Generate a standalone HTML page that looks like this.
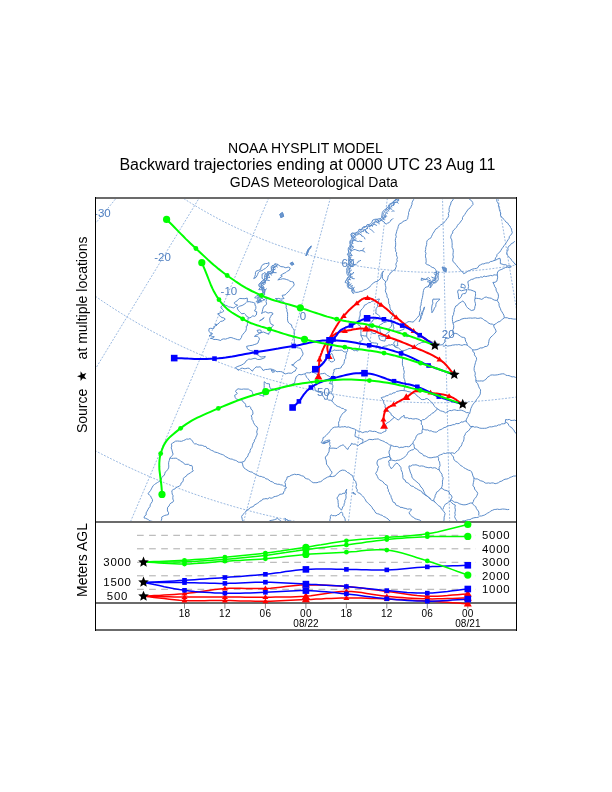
<!DOCTYPE html><html><head><meta charset="utf-8"><title>NOAA HYSPLIT MODEL</title>
<style>html,body{margin:0;padding:0;background:#fff;}svg{display:block;will-change:transform;}</style></head><body>
<svg width="612" height="792" viewBox="0 0 612 792" font-family="'Liberation Sans', Arial, Helvetica, sans-serif">
<rect width="612" height="792" fill="#fff"/>
<text x="228.1" y="152.6" font-size="14" fill="#000">NOAA HYSPLIT MODEL</text>
<text x="119.4" y="169.8" font-size="16" fill="#000">Backward trajectories ending at 0000 UTC 23 Aug 11</text>
<text x="229.8" y="186.6" font-size="14" fill="#000">GDAS Meteorological Data</text>
<defs><clipPath id="mc"><rect x="95.5" y="198" width="420.5" height="323.5"/></clipPath></defs>
<g clip-path="url(#mc)">
<path d="M-201.1,392.5 L-149.8,345.6 L-99.8,299.8 L-50.8,255 L-2.4,210.7 L45.7,166.6 L93.8,122.6 L142.4,78.1 L191.9,32.7 L243.1,-14.1 M-112.4,476.5 L-68.3,422.8 L-25.3,370.4 L16.9,319.1 L58.5,268.4 L99.9,218 L141.3,167.6 L183.1,116.7 L225.7,64.7 L269.8,11.1 M-12.8,547.1 L23.3,487.7 L58.4,429.8 L92.9,373 L127,316.9 L160.8,261.2 L194.7,205.4 L228.8,149.1 L263.7,91.7 L299.7,32.3 M95.8,602.9 L123.1,539 L149.7,476.7 L175.8,415.6 L201.6,355.2 L227.2,295.3 L252.8,235.3 L278.7,174.7 L305.1,112.9 L332.4,49.1 M211.2,642.8 L229.2,575.7 L246.7,510.2 L263.9,446 L280.9,382.6 L297.8,319.7 L314.7,256.6 L331.7,193 L349.1,128.1 L367,61.1 M331.1,666 L339.4,597 L347.5,529.7 L355.4,463.7 L363.3,398.5 L371.1,333.8 L378.9,269 L386.7,203.6 L394.8,137 L403.1,68 M453,671.9 L451.5,602.4 L450,534.7 L448.5,468.2 L447.1,402.6 L445.6,337.5 L444.2,272.2 L442.7,206.4 L441.3,139.2 L439.7,69.8 M574.6,660.6 L563.3,592 L552.2,525.1 L541.3,459.6 L530.6,394.8 L520,330.5 L509.3,266.1 L498.6,201.2 L487.6,134.9 L476.3,66.4 M693.4,632.2 L672.4,565.9 L652,501.2 L632,437.9 L612.2,375.3 L592.6,313.1 L572.9,250.9 L553.1,188.1 L532.9,124.1 L512,57.9 M806.9,587.2 L776.8,524.5 L747.4,463.5 L718.7,403.5 L690.2,344.4 L662,285.7 L633.7,226.8 L605.2,167.5 L576.1,106.9 L546.1,44.4 M-163.6,219.4 L-155.4,231.1 L-147,242.7 L-138.3,254.1 L-129.5,265.3 L-120.4,276.4 L-111.1,287.2 L-101.6,297.9 L-91.8,308.4 L-81.9,318.7 L-71.8,328.8 L-61.4,338.7 L-50.9,348.4 L-40.2,357.9 L-29.3,367.1 L-18.2,376.2 L-7,385 L4.4,393.6 L16,402 L27.8,410.1 L39.7,418 L51.8,425.7 L64,433.1 L76.4,440.3 L88.9,447.3 L101.5,454 L114.3,460.4 L127.2,466.6 L140.2,472.5 L153.3,478.2 L166.5,483.6 L179.9,488.8 L193.3,493.7 L206.9,498.3 L220.5,502.6 L234.2,506.7 L248,510.5 L261.8,514.1 L275.8,517.3 L289.8,520.3 L303.8,523 L317.9,525.5 L332,527.6 L346.2,529.5 L360.4,531.1 L374.7,532.4 L388.9,533.5 L403.2,534.2 L417.5,534.7 L431.8,534.9 L446.1,534.8 L460.4,534.4 L474.7,533.7 L489,532.8 L503.2,531.5 L517.4,530 L531.6,528.2 L545.8,526.2 L559.9,523.8 L574,521.2 L588,518.3 L601.9,515.1 L615.8,511.7 L629.6,507.9 L643.3,503.9 L657,499.7 L670.5,495.1 L684,490.3 L697.4,485.2 L710.6,479.9 L723.8,474.3 L736.9,468.4 L749.8,462.3 L762.6,456 L775.3,449.3 L787.8,442.5 L800.2,435.4 L812.5,428 L824.6,420.4 L836.6,412.6 M-54.5,144.9 L-47.8,154.5 L-40.9,163.9 L-33.9,173.3 L-26.6,182.4 L-19.2,191.5 L-11.6,200.4 L-3.8,209.1 L4.1,217.7 L12.2,226.1 L20.5,234.3 L29,242.4 L37.6,250.3 L46.3,258.1 L55.2,265.7 L64.3,273 L73.5,280.3 L82.8,287.3 L92.3,294.1 L101.9,300.8 L111.7,307.3 L121.5,313.5 L131.5,319.6 L141.6,325.5 L151.9,331.2 L162.2,336.6 L172.6,341.9 L183.2,347 L193.8,351.8 L204.5,356.5 L215.4,360.9 L226.3,365.1 L237.3,369.1 L248.3,372.9 L259.5,376.4 L270.7,379.8 L281.9,382.9 L293.3,385.8 L304.6,388.5 L316.1,390.9 L327.6,393.1 L339.1,395.1 L350.6,396.9 L362.2,398.4 L373.8,399.7 L385.5,400.8 L397.2,401.6 L408.8,402.2 L420.5,402.6 L432.2,402.8 L443.9,402.7 L455.6,402.4 L467.3,401.8 L478.9,401.1 L490.6,400.1 L502.2,398.8 L513.8,397.4 L525.4,395.7 L536.9,393.8 L548.4,391.6 L559.9,389.2 L571.3,386.6 L582.6,383.8 L593.9,380.8 L605.1,377.5 L616.3,374 L627.4,370.3 L638.4,366.4 L649.3,362.2 L660.2,357.9 L670.9,353.3 L681.6,348.5 L692.2,343.5 L702.6,338.3 L713,332.9 L723.2,327.3 L733.4,321.4 L743.4,315.4 L753.3,309.2 L763.1,302.8 M53.2,71.3 L58.4,78.8 L63.8,86.2 L69.3,93.4 L74.9,100.6 L80.7,107.6 L86.6,114.5 L92.7,121.3 L98.9,128 L105.2,134.6 L111.7,141 L118.3,147.3 L125,153.5 L131.8,159.5 L138.7,165.4 L145.8,171.2 L153,176.8 L160.3,182.3 L167.6,187.7 L175.1,192.8 L182.7,197.9 L190.4,202.8 L198.2,207.5 L206.1,212.1 L214.1,216.5 L222.1,220.8 L230.3,224.9 L238.5,228.8 L246.8,232.6 L255.1,236.2 L263.6,239.7 L272.1,243 L280.6,246.1 L289.3,249 L297.9,251.8 L306.7,254.4 L315.5,256.8 L324.3,259.1 L333.2,261.2 L342.1,263.1 L351,264.8 L360,266.4 L369,267.7 L378.1,268.9 L387.1,269.9 L396.2,270.8 L405.3,271.4 L414.4,271.9 L423.5,272.2 L432.6,272.3 L441.7,272.3 L450.8,272 L459.9,271.6 L469,271 L478.1,270.2 L487.2,269.3 L496.2,268.1 L505.2,266.8 L514.2,265.3 L523.2,263.6 L532.1,261.8 L541,259.8 L549.8,257.6 L558.6,255.2 L567.4,252.6 L576.1,249.9 L584.7,247 L593.3,243.9 L601.8,240.7 L610.3,237.3 L618.7,233.7 L627,230 L635.2,226.1 L643.4,222.1 L651.5,217.8 L659.5,213.5 L667.4,208.9 L675.2,204.2 L682.9,199.4 L690.5,194.4 M163,-3.7 L166.7,1.6 L170.6,6.8 L174.5,12 L178.5,17.1 L182.6,22.1 L186.8,27 L191.1,31.9 L195.6,36.6 L200.1,41.3 L204.7,45.9 L209.3,50.4 L214.1,54.7 L219,59 L223.9,63.2 L228.9,67.3 L234,71.3 L239.2,75.3 L244.5,79 L249.8,82.7 L255.2,86.3 L260.7,89.8 L266.2,93.2 L271.8,96.4 L277.5,99.6 L283.2,102.6 L289,105.5 L294.9,108.4 L300.8,111 L306.7,113.6 L312.7,116.1 L318.8,118.4 L324.9,120.6 L331,122.7 L337.2,124.7 L343.4,126.6 L349.6,128.3 L355.9,129.9 L362.2,131.4 L368.6,132.7 L375,134 L381.3,135.1 L387.8,136 L394.2,136.9 L400.6,137.6 L407.1,138.2 L413.6,138.7 L420,139 L426.5,139.2 L433,139.3 L439.5,139.3 L446,139.1 L452.5,138.8 L458.9,138.4 L465.4,137.8 L471.8,137.1 L478.3,136.3 L484.7,135.4 L491.1,134.3 L497.5,133.1 L503.8,131.8 L510.1,130.4 L516.4,128.8 L522.7,127.1 L528.9,125.3 L535.1,123.3 L541.3,121.3 L547.4,119.1 L553.4,116.8 L559.4,114.4 L565.4,111.8 L571.3,109.2 L577.2,106.4 L583,103.5 L588.8,100.5 L594.4,97.4 L600.1,94.2 L605.6,90.9 L611.1,87.4 L616.5,83.9" fill="none" stroke="#7fa6d8" stroke-width="0.8" stroke-dasharray="1.9,1.5"/>
<text x="102.4" y="217.1" font-size="11.5" fill="#4f7fc0" text-anchor="middle">-30</text>
<text x="162.5" y="261" font-size="11.5" fill="#4f7fc0" text-anchor="middle">-20</text>
<text x="228.9" y="295" font-size="11.5" fill="#4f7fc0" text-anchor="middle">-10</text>
<text x="303" y="319.7" font-size="11.5" fill="#4f7fc0" text-anchor="middle">0</text>
<text x="448.2" y="337.8" font-size="11.5" fill="#4f7fc0" text-anchor="middle">20</text>
<text x="348" y="266.9" font-size="11.5" fill="#4f7fc0" text-anchor="middle">60</text>
<text x="323.4" y="395.5" font-size="11.5" fill="#4f7fc0" text-anchor="middle">50</text>
<path d="M385.8,281.7 L383.9,280.1 L382.7,278.7 L382.3,276.9 L382.5,274.8 L382.1,272.7 L383.6,270.9 L382.5,272.8 L381.2,274.6 L381.1,276.9 L380.4,278.8 L378.8,279.9 L377.6,281.4 L375.2,281.8 L373.2,283.2 L371.9,284.4 L370.6,285.6 L369.7,287.1 L368.1,287.9 L366.8,289 L365.2,289.6 L363.7,290.2 L362.3,291.2 L360.3,291.4 L358.4,292.2 L355.5,292.4 M385.8,281.7 L385.1,283.7 L385.4,285.4 L385.9,287.2 L385.8,289 L385.3,290.8 L385.9,292.6 L386.7,294 L387,295.6 L387,297.3 L388.4,298.6 L388.5,300.3 L388.7,301.9 L388.7,303.6 L389.8,305 L389.8,306.7 L390.2,308.3 L390.8,310 L392.4,311.1 L393,312.8 L394,314.2 L392.7,315.6 L391.7,317.2 L390.7,318.8 L391.5,320.5 L392.3,322.2 L393.1,324.1 L393.4,326.2 L394,328.2 L392.5,330.7 L394.9,331.3 L396.5,331 L398.2,331 L399.9,330.9 L401.8,330 L403.9,329.4 L404.2,327.8 L404.1,326.2 L403.8,324.6 L405.1,323.5 L406.7,322.7 L408,321.7 L409.8,321.6 L411.6,321.9 L413.3,322.1 L414.3,320.7 L415.8,319.6 L416.7,318.2 L417.9,317 L419.1,315.7 L419.6,314 L419.6,312.2 L420.4,310.6 L420.3,308.7 L420.2,306.9 L421.1,305.1 L421.1,303.3 L421.5,301.5 L421.8,299.5 L422.4,297.7 L422.7,295.7 L423,294 L423.2,292.3 L423.5,290.5 L424.2,288.6 L426,287.1 L428.3,286.7 L429.1,284.7 L430.8,283.4 L431.7,281.5 L433.4,280.9 L435.1,280.2 L435.6,277.9 L435.7,275.5 L436.5,273.3 L436.3,271 L435.4,269.3 L434.1,267.9 L432.2,267.4 L430.6,266.3 L429.1,265.2 L427.2,264.6 L425.7,263.5 L426.2,261.8 L426.1,260.2 L426,258.5 L425.5,256.9 L425.5,255.2 L426,253.3 L425.2,251.4 L425.7,249.6 L425.7,247.8 L426.2,246.1 L426.7,244.4 L426.7,242.6 L427,240.9 L428.1,239.6 L429.5,238.7 L431,237.8 L431.6,236.3 L432.3,234.8 L433,233.3 L434,232 L434.8,230.5 L435.7,229.1 L437.1,228.3 L438.4,227.3 L439.5,226 L440.7,224.9 L442.2,224.1 L443.6,223.2 L444.6,221.8 L445.8,220.4 L446.9,218.8 L448.1,217.3 L448.7,215.5 L448.3,213.5 L449.3,211.5 L449,209.5 L449.3,207.6 L450,205.8 L450.8,204 L451,202.1 L452.3,201 L453,199.3 L454.4,198.2 L456.2,197.7 L457.7,196.4 L459.6,196.1 L461.5,195.9 L463.1,194.8 L464.8,194.2 M464.8,194.2 L466.1,195.6 L467.3,197 L468.6,198.3 L470,199.6 L471.5,200.7 L472.7,202.4 L473,204.5 L471.9,205.8 L470.6,206.9 L469.7,208.4 L468.2,209.2 L467,211 L465.8,212.7 L464.7,214.6 L463.5,216 L462.5,217.5 L462.4,219.6 L461.1,220.9 L460.1,222.7 L458.5,224 L457.3,225.7 L456.5,227.3 L455.3,228.6 L453.9,229.8 L452.8,231.2 L452.7,233 L451.5,234.4 L450.9,236.1 L450.7,237.9 L451.8,239.9 L452,242.2 L452.2,243.9 L452.1,245.7 L452.1,247.4 L453,249 L453.3,250.8 L453.2,252.5 L452.9,254.8 L453.4,257.1 L452.7,259.2 L452.9,261.5 L454.5,262.7 L455.7,264.4 L457,265.9 L458.2,267.6 L459.8,269 L460.8,270.8 L462.6,271.9 L463.6,273.7 L465.1,273 L466.6,272.3 L467.7,271.1 L469.5,270.6 L471.1,269.7 L472.8,269 L474.6,268.7 L476.4,268.4 L478,267.5 L478.9,265.6 L480.6,264.8 L482.2,263.9 L483.9,263.9 L485.4,263.2 L487.1,262.9 L488.8,262.9 L490.3,261.6 L492.3,261.3 L494,260.5 L496.1,259.9 L497.9,258.9 L499.9,258.2 L500.4,260 L500.4,261.8 L500.3,263.6 L502.1,264.1 L503.9,264.8 L505.8,264.7 L507.5,265.9 L509.6,265.8 L511.4,266.7 L509.6,267.7 L507.5,267.2 L505.5,267.5 L503.7,268.4 L501.9,269.3 L499.9,270 L498.1,271.2 L497.3,273 L497.3,275 L495.7,275 L494,274.8 L492.4,275.8 L490.7,275.4 L489.1,275.9 L487.4,276.2 L485.8,276.6 L484,276 L482.5,277.3 L480.8,276.8 L479.3,277.7 L477.6,277.7 L475.9,277.8 L474.4,278.4 L473,279.2 L471.4,279.4 L469.6,280.5 L467.8,281.6 L468.1,283.3 L468.4,285 L468.6,286.6 L468.1,288.2 L468.4,289.8 L470.3,289.9 L472,290.4 L473.7,291.1 L475.4,291.7 L475.5,293.4 L475.6,295.1 L475.2,296.7 L475,298.5 L474.7,300.1 L474.9,301.7 L475.4,303.3 L475.5,305 L474.9,306.6 L474.7,308.3 L474.1,309.9 L471.3,310.5 L469.4,309.2 L467.6,307.8 L466.5,306.5 L465.7,305 L465.2,303.4 L463.8,302.3 L462.9,300.9 L461.4,301.8 L460,302.8 L458.5,303.7 L457.5,305.3 L455.8,306 L455.1,307.6 L454.3,309.3 L454.3,311.1 L453.7,312.7 L453.6,314.5 L452.7,316 L452.4,317.7 L452.4,319.6 L452.6,321.5 L453,323.3 L453.7,325.6 L453.7,328 L452.9,329.8 L452.7,331.7 L453,333.6 L451.9,335.1 L450.5,336.5 L449.4,338 L447.5,338.6 L445.7,338.1 L444.8,340 L445,342 L443.6,343.1 L442.8,344.7 L441,344.9 L439.1,345.1 L437.4,346.1 L435.6,346.1 L435.9,344.4 L436.7,342.8 L435.1,342.7 L433.6,342 L431.9,342.2 L430.5,341 L428.9,341.1 L427.3,340.7 L425.5,341.4 L423.8,342.4 L421.8,342.4 L420.1,343.3 L418.3,343.9 L416.9,345 L415.5,346.3 L413.6,346.6 L412.2,347.8 L410.8,348.7 L409,348.5 L407.6,349.3 L406.1,349.9 L404,350.6 L401.9,350.8 L400.2,349.5 L398.6,348.1 L395.6,347.3 L393.9,345.7 L392,344.4 L390.5,345.1 L388.7,344.9 L387.3,345.8 L385.7,346.1 L384,346.3 L382.4,347 L380.9,348 L380.4,349.3 L378.9,348.5 L378,347 L375.9,348.1 L376.7,346.7 L377.1,345.1 L377.9,343.8 L376.3,343.1 L374.6,343 L372.9,342.8 L371.2,342.4 L369,340.5 L368.6,338.8 L367,337.7 L366.7,335.9 L366.8,332.8 L367.3,330.9 L367.4,328.9 L368,327 L370.1,326.4 L368.9,324.4 L371.3,322.6 L372.5,320.5 L374.4,319.1 L377.3,318.8 L378.8,317.8 L379.9,316.3 L378.5,315.3 L377.3,314 L375.7,313.4 L376,311.7 L375.9,310 L376.3,308.3 L377.6,306.6 L377.5,304.4 L378.6,302.7 L378.6,300.7 L379.5,299 L377.9,299.2 L376.4,300 L374.8,300.3 L373.4,301.1 L371.7,301.3 L370.5,302.5 L368.8,302.6 L367.4,303.6 L366.1,304.6 L364.5,305.1 L363.7,307.1 L362.4,308.6 L361,310.1 L360,312 L360.2,314 L360,316 L359.2,317.9 L359.1,319.6 L358.1,321.2 L358.6,323.1 L357.9,324.7 L360.5,326.2 L360.3,327.9 L361.1,329.5 L360.9,331.2 L360.9,333.8 L361,335.9 L362.1,337.7 L362.8,339.6 L361.3,341 L359.4,341.5 L361.1,344 L359.8,345.3 L359.4,347.1 L358.7,349.2 L357.7,351.1 L355.1,350.1 L354.3,351 L353,349.8 L351.4,349 L350,348 L347.5,348.9 L347.6,350.6 L346.9,352.1 L344.8,352 L343.1,351.4 L341.8,350 L339.8,350.3 L337.9,350.3 L335.9,350.4 L333.9,349.9 L332.7,351.1 L330.7,351.1 L329.5,352.3 L327.3,353.8 L327.1,355.5 L326,356.8 L325.8,358.5 L324.8,359.9 L323.8,361.6 L322.2,362.6 L321.2,364.3 L319.6,365.3 L317.9,366.3 L316.9,368.1 L315.4,369.5 L314,371.3 L311.5,371.9 L310,372.9 L308.2,372.8 L306.4,372.8 L304.9,373.8 L303.3,374.2 L301.1,374.8 L298.9,374.4 L297.6,375.6 L296.2,376.7 L295.4,379.3 L294.9,381.4 L294.5,383.4 L292.7,383.8 L291,384.7 L289.5,385.8 L287.3,385.9 L285.2,386.3 L283.1,386.5 L281.3,387.6 L280,389.3 L277.9,389.7 L276.1,390.8 L274.7,389.7 L273.1,389 L271.2,388.9 L269.9,387.7 L269.5,385.8 L269.5,383.9 L266.5,383.5 L264.2,381.7 L264.2,383.6 L264.2,385.5 L264.2,387.4 L263.7,389.4 L264.1,391.5 L263.7,393.6 L263.8,396.3 L261.8,395.5 L259.7,395 L257.2,393.8 L255.1,394.4 L253,394.7 L252.5,392.6 L251.5,390.7 L249.8,390.2 L248.4,389.1 L246,389.1 L243.6,389 L241.8,389.3 L239.9,389.1 L238.1,388.8 L236.4,389.9 L235.5,391.6 L237.4,393.4 L236.1,394.5 L234.6,395.3 L235.2,397.5 L236.6,399.3 L238.6,399.5 L240.7,399.7 L242.3,400.4 L243.2,402.1 L244.7,403 L245.7,404.7 L245.8,406.7 L247.7,406.8 L249.4,406.2 L250.7,407.3 L250.9,409.1 L252.3,410.2 L252.8,411.8 L253,414.2 L251.2,415.7 L251.9,417.3 L251.9,419.3 L253,420.8 L253.5,422.6 L254.4,424.2 L255.4,425.7 L257,426.8 L257.7,428.6 L257.1,430.3 L256.7,432.1 L257.3,434 L256.6,435.8 L255.9,437.2 L255.5,438.8 L254.3,440 L254.3,441.8 L253.1,443 L252.5,445.2 L251.9,447.5 L250.8,448.9 L250.1,450.5 L250,452.4 L248.5,453.6 L248.1,455.3 L247.4,457 L245.9,458.2 L245.2,459.9 L244.3,461.4 L241.8,462.2 L239.8,462.3 L238.1,462.1 L236.8,460.9 L235.3,460.3 L233.7,459.9 L232.2,459.1 L230.5,459 L228.7,458.3 L227,457.3 L225.2,456.4 L223.7,455.1 L222.2,454.5 L220.6,454 L219.1,453.4 L217.6,452.7 L216,452.3 L214.4,451.9 L213.1,450.9 L211.5,450.4 L210.1,449.6 L208.8,448.5 L207.1,448.4 L205.9,446.4 L204.2,446.4 L202.7,445.5 L201.1,445.2 L199.4,445.2 L197.8,444.7 L196.3,443.8 L194.6,443.9 L193.3,442.7 L192.5,441.1 L191.4,439.7 L190,438.6 L188.4,439.2 L186.6,439 L185.1,439.9 L183.5,440.5 L181.6,441.3 L179.5,441.2 L177.5,441 L175.4,441.2 L174.1,442.2 L172.6,442.9 L171.4,444.1 L171.8,446 L171.2,447.9 L171.9,449.8 L172.4,452 L173.1,454.1 L172.2,455.6 L171,456.8 L169.9,458 L169.3,460.4 L168.7,462.2 L168.6,464.1 L168.8,466 L168.6,467.9 L167.8,469.4 L166.8,470.8 L165.3,471.9 L164.8,473.7 L164.3,475.3 L162.7,476.3 L161.8,477.7 L161.3,479.3 L160.2,480.7 L158.8,481.7 L157.4,482.6 L155.9,483.5 L154.5,484.5 L153.2,485.6 L152.3,487.1 L151.4,488.9 L150.5,490.6 L149.2,492.1 L148.1,493.8 L149.3,495 L150.6,496 L151.4,497.9 L152.5,499.7 L152.3,501.6 L151.1,503.2 L150.2,504.8 L150,506.7 L148.7,508.1 L147.9,509.7 L147,511.3 L146.1,512.9 L146.2,514.9 L144.5,516.1 L144,517.9 L145.6,518.3 L147.1,519 L148.6,519.8 L149.9,520.9 L151.5,521.2 L153.1,521.6 L154.6,522.4 L156.4,522.5 L158.2,523.3 L160,523.4 L161.9,522.9 L163.7,523.2 L165.5,523.7 L166.1,525.2 L166.8,526.8 L166.9,528.4 L167.7,529.9 L167.9,531.6 L168,533.3 L168.9,534.7 L169.4,536.4 L170.9,537.6 L171.6,539.3 L172.2,540.9 L172.8,542.6 L173.7,544.1 M220.2,566.1 L219.5,564.6 L218.8,563.2 L218.2,561.6 L217.5,560.2 L217.5,558.4 L216.8,556.9 L215.9,555.6 L215.6,553.9 L214.8,552.5 L214.2,551 L213.4,549.5 L212.9,548 L212.3,546.4 L214,546.2 L215.3,545.3 L216.8,544.6 L217.9,543.2 L219.5,542.9 L220.9,542.1 L222.2,541.1 L223.8,540.7 L225.1,539.6 L226.6,539.1 L228.2,538.7 L229.6,537.7 L230.6,536.4 L231.7,535.3 L232.4,533.6 L233.5,532.5 L234.5,531.3 L236,530.4 L237.6,529.4 L239.3,528.8 L241.4,529 L243.1,528.4 L244.6,527.3 L243.9,525.9 L243.5,524.3 L243.8,522.5 L243,521.1 L242.3,519.6 L242,518 L241.6,516.5 L242.6,514.8 L244.1,513.5 L245.4,512.1 L246.4,510.4 L247.8,509.5 L249.3,508.9 L250.3,507.4 L252,507 L253.6,506.4 L254.5,504.8 L256.1,504.2 L257.5,503.3 L258.9,502.4 L260,501.1 L261.7,500.6 L262.7,499.1 L264.4,498.9 L266,498.6 L267.8,498.9 L269.3,497.6 L271.1,498.3 L272.7,497.7 L274,496.7 L275.7,496.4 L277.2,496 L278.7,495.4 L280.1,494.4 L281.7,494.1 L283.3,493.7 L283.7,491.9 L284.9,490.4 L284.9,488.5 L286.5,488 L285.4,486.1 L285.5,484.2 L284.8,482.4 L285.7,480.6 L286.8,478.9 L287.2,476.9 L289.3,476.5 L291.1,475.3 L293.1,474.7 L294.7,474.2 L296.4,474.7 L298.1,474.4 L300,475 L301.7,475.8 L303.7,476.2 L304.9,478 L306.7,478.8 L308.6,479.2 L310.1,480.4 L311.6,481.7 L313.2,482.7 L315.1,482.7 L317,482.7 L318.7,482 L320.6,481.7 L322.1,480.8 L323.2,479.5 L324.8,478.7 L327.5,477.1 L329.8,476.5 L332.5,476.6 L335.1,475.9 L336.1,474.4 L337.6,473.4 L338.6,472 L340.1,471 L342.2,470.1 L344.5,470.3 L346.1,471.1 L347.5,472.5 L349.3,473.1 L350.5,474.6 L352.3,475.3 L352.9,476.9 L353.6,478.5 L354.1,480.1 L355.7,481.3 L356,483 L356.6,484.7 L356,486.5 L356.2,488.1 L357.3,489.7 L357,491.4 L358.2,492.8 L360.2,493.4 L361.3,495 L362.6,496 L363.7,497.2 L364.6,498.6 L365.5,499.9 L366.1,501.5 L367.5,502.4 L368.5,503.7 L369.9,504.8 L370.9,506.2 L372.2,507.4 L372.8,509.1 L374.2,510.1 L374.9,511.7 L375.9,513.1 L377.4,513.7 L379.1,514.1 L380.5,514.9 L382.2,515.3 L383.5,516.5 L385.1,517 L386.5,518 L388,518.9 L389,520.3 L390.5,521.1 L391.6,522.5 L392.3,524 L392.5,525.6 L394.5,524.8 L396.8,524.8 L397.5,526.5 L399,527.9 L399.4,529.9 L400.9,531.1 L401.8,532.8 L403.5,532.7 L405.2,533.3 L405.5,535 L405.9,536.5 L406.3,538.1 L407.5,539.4 L407.7,541.1 M419.1,541.4 L419.7,539.9 L420.1,538.3 L419.9,536.5 L420.4,534.9 L420.9,533.3 L420.8,531.6 L421.8,530.2 L421.8,528.5 L423.2,529.8 L424.6,531.1 L426.4,531.8 L427.8,533 L429.4,534.2 L430.9,535 L432,536.3 L433.2,537.5 L433.9,536 L434.5,534.5 L434.5,532.8 L433.1,531.8 L431.9,530.5 L430.8,529.2 L430.1,527.6 L429,526.3 L427.6,524.9 L425.6,524.4 L424.1,523.1 L422.5,522 L421.1,521.2 L419.8,520.1 L418.2,519.6 L416.6,519.2 L415,518.7 L413.8,517.5 L412.3,516.9 L411.1,515.6 L409.9,514.2 L408.9,512.6 L410.5,511.2 L411.6,509.4 L409.7,508.9 L407.7,509.2 L405.9,508.5 L403.9,508.1 L402,507.4 L400,507.3 L398.8,506 L397.1,505.6 L395.6,504.7 L395.1,502.9 L393.3,502.3 L392.5,500.8 L392,499 L391.2,497.4 L390.9,495.6 L389.7,494.1 L389.4,492.5 L388.3,491.2 L388.4,489.5 L387.4,488.1 L387.5,486.4 L386.7,485 L385,484.3 L383.9,483 L382.8,481.6 L381.3,480.7 L379.6,479.9 L378.3,478.5 L377.5,476.7 L376.7,475 L375.6,473.5 L376.6,471.9 L377.5,470.3 L377.8,468.4 L378.6,466.7 L377.4,465 L376.9,463 L377.6,460.3 L379.3,459.3 L381.2,458.8 L382.9,457.8 L384.9,457.6 L387,457.1 L389,456.3 L391,458.4 M391,458.4 L390.6,459.7 L388.5,461.1 L389.2,463.3 L389,465.5 L390.4,466.8 L391.1,468.7 L392.6,467.6 L393.7,466.2 L394.6,464.6 L396.9,463 L398.5,464.4 L399.8,466 L401,467.7 L401,469.4 L401.6,471 L402.4,472.5 L402.5,474.2 L402.9,475.9 L402.8,477.7 L403.5,479.3 L405.1,480 L405.6,481.9 L407.2,482.6 L408.7,483.4 L409.7,484.7 L411.2,486 L413.3,486.4 L414.8,487.8 L416.7,488.7 L418.4,489.8 L420.3,490.7 L421.8,491.6 L422.6,493.3 L424.2,494.1 L425.3,495.4 L427,496 L428.3,497 L429.6,498 L430.6,499.5 L432,500.4 L433.6,501 L434.9,502.1 L436.3,503.3 L437.5,504.7 L438.8,505.9 L440.5,506.8 L441.5,509.2 L443,510.3 L444,511.9 L445.1,513.4 L444.7,515.3 L444.1,517.1 L444.1,519 L443.9,520.9 L443.7,522.7 L444.1,524.6 L444.1,526.6 L444.7,528.5 L445.7,529.9 L446.6,531.4 L447.4,533 L448.5,534.3 L449,536 L450,537.4 L451.2,538.6 L452.2,540 M346.7,489.2 L346.1,491.2 L346.5,493.2 L345.8,495 L346.1,497 L345.8,498.8 L344.8,500.5 L344.8,502.4 L344.1,503.9 L343.9,505.7 L342.6,507 L342.2,508.7 L341.4,510.2 L340,508.3 L338.2,506.9 L338.4,504.7 L338.1,502.6 L338,500.2 L336.9,498 L338.4,496.1 L339.5,494 L341.4,494.3 L343.1,493.3 L345,493.3 L345.7,491.2 L346.7,489.2 M329.1,542.2 L328.9,540.4 L330,538.9 L329.4,537.1 L330.1,535.5 L330.3,533.8 L330.9,532.2 L330.7,530.5 L331,528.8 L330.4,527.1 L330.4,525.2 L329.8,523.4 L329.9,521.6 L329.9,519.7 L330.4,518.1 L330.3,516.3 L331.2,514.8 L332.7,515.7 L334.4,515.6 L336,515.9 L337.4,514.8 L339.1,514.3 L340.2,512.7 L341.8,512.1 L342.7,513.6 L342.8,515.4 L344,516.8 L345,518.7 L345.3,520.9 L346.3,522.8 L346.3,524.5 L345.3,526 L344.7,527.6 L344.4,529.3 L344.4,531.1 L343.8,532.8 L343.2,534.5 L342.8,536.3 L342.8,538.2 L342.1,539.8 M277.5,518.4 L279.4,519.8 L281.1,521.3 L279.6,522.6 L279.2,524.6 L277.9,526.1 L275.9,525.5 L273.8,525.9 L271.7,525.4 L271,523.9 L270.3,522.3 L269.6,520.8 L271.2,520.4 L272.8,520.1 L274.4,519.7 L276,519.1 L277.5,518.4 M284.9,518.2 L286.3,519.4 L287.8,520.4 L289.6,521 L287.5,521.4 L285.3,521.5 L285.4,519.8 L284.9,518.2 M353,492 L354.3,493.2 L355.7,494.4 L352.9,493.4 L353,492 M295.2,371.1 L295.9,369.5 L297,368.2 L295.4,367.6 L294.4,366.2 L293,365.5 L291.6,364.8 L293.8,364.4 L294.6,362.8 L296.3,361.9 L297.4,360.6 L300.1,359.5 L300.6,357.7 L301.8,356.3 L302.8,354.8 L303,353.2 L302.3,351.6 L301.6,349.9 L300.7,348.3 L298.6,348 L296.5,347.5 L294.7,346.5 L291.9,347.8 L293,345.8 L294.1,343.7 L294.4,341.7 L294.3,339.8 L293.9,337.8 L292.4,336.7 L291.2,335.4 L292.4,336.5 L293.8,337.5 L294.1,335.8 L294.4,334.1 L294.1,332.3 L294.2,330.6 L293.7,329 L292.4,327.9 L291.8,326.4 L291.5,324.8 L289.6,323.7 L288.1,322.1 L287.6,320.2 L287.5,318.2 L287.6,316.6 L287.6,314.8 L287.6,313 L286.9,311.3 L286.9,309.5 L286.1,307.8 L286.3,306 L285.8,304.1 L283.5,302 L282.3,300.8 L280.5,300.8 L278.7,300.8 L277,299.7 L275.4,298.5 L277.1,298.6 L278.8,298.4 L280.5,299 L282.1,299 L284.1,298.4 L282.9,297.2 L282.2,295.3 L285.2,294.9 L286.6,293.3 L288.1,292.1 L289.3,290.7 L290.9,288.6 L292.1,287.4 L293.3,286.2 L294.2,284.8 L293.4,282 L291.6,281.6 L289.9,281.2 L288.4,280.1 L286.7,279.6 L285,279 L282.8,278.7 L280.6,279.3 L277.8,279.9 L279.9,277.9 L282.3,276.2 L280.7,275.4 L282.4,274.2 L284.2,273.2 L285.9,272.5 L287.3,271.1 L289.2,270.4 L290.3,268.1 L288.2,267 L286.9,267.5 L285.2,267.7 L283.7,266.9 L280.8,266.6 L278.9,265.3 L277.5,264.1 L276.5,266 L274.6,266.5 L273.3,267.9 L273.4,270.3 L273.4,272.6 L271.3,273.6 L269,273.6 L267.9,275.2 L267,276.9 L267,279 L265.6,280.3 L265,282.1 L262.9,283 L261.1,284.5 L261.6,286.2 L262.6,287.6 L264,288.7 L264.9,290.1 L264.7,292 L264.5,293.8 L263.6,295.4 L262.4,297.2 L260.9,298.6 L259.7,300 L258.4,301.3 L257.7,303.1 L259.7,302.1 L260.8,300.8 L262.6,300.7 L264,299.8 L265.3,298.9 L266.6,297.9 L266.7,299.6 L266,301.3 L266.6,303.9 L265.6,305.4 L264.1,306.1 L263.2,307.9 L262.6,309.8 L262.3,311.7 L261.5,313.5 L263.4,312.4 L265.5,311.7 L268.1,313.1 L270.3,312.5 L272.5,312.9 L273,314.1 L271.4,315 L270.7,316.6 L269.7,318.3 L269.8,320.3 L270.1,322.3 L271.1,324.1 L273.6,325.3 L272.2,326.4 L271.3,328 L271,330.2 L269.7,332.9 L268.6,333.1 L268.9,334.3 L266.1,333.1 L263.4,332 L261,332.7 L259.5,333.4 L257.8,334.5 L255.9,335.1 L254.4,336.4 L257.5,336.3 L258.8,337.6 L259.5,339.2 L258.5,341 L258,343 L256.2,344 L254.2,344.6 L252.3,345.3 L249.4,345.7 L246.5,346.4 L247.6,349.2 L250.2,350.5 L253,351.1 L252.8,352.8 L255.6,353.3 L256.8,354.6 L258.4,355.1 L259.5,356.4 L261.1,357 L263.2,356.8 L265.3,356.4 L264.9,357.6 L262.1,358.8 L260,359.4 L257.7,359.5 L255.1,358.2 L253,358.7 L250.9,359.3 L248.8,359 L247.4,360.1 L245.9,361.1 L245.1,362.8 L243.5,363.8 L241.9,364.9 L239.9,365.7 L237.9,366.4 L235.5,367.5 L236.9,369.3 L239,370.3 L240.9,368.3 L242.5,368.2 L244.2,368.7 L245.8,368.6 L247.4,368.2 L249.1,368.2 L250.7,369.8 L252.5,371.2 L253.3,369.5 L254.8,368.3 L256,366.9 L258,367.1 L260.1,366.8 L261.8,368.4 L263.1,370.5 L265.3,369.5 L267.8,369.4 L270.1,368.9 L272.5,369.4 L274.9,370.4 L277,371.8 L278.9,371.5 L280.7,371.6 L282.6,372 L283.7,373.2 L285.3,373.9 L286.8,373.5 L288.4,373.1 L290.1,373.2 L291.8,373.2 L293.9,371.4 L295.2,371.1 M259.7,329.9 L257,330.4 L258.6,333 L261.3,332.5 L261.1,330.4 L259.7,329.9 M264.2,317.7 L262.7,318.9 L261.2,320 L259.5,320.9 L261.5,319.6 L262.9,318.7 L264.2,317.7 M271.1,369.7 L272.5,372.4 L274.6,371.7 L273,370.5 L271.1,369.7 M268.9,262.5 L268.9,264.3 L268.1,265.9 L266.8,267.2 L265.4,268.4 L263.6,269.4 L262,270.6 L259.8,271.2 L258.2,272.7 L257.7,274.3 L256.9,275.9 L256,277.4 L253.7,278.6 L254.9,276.3 L255.4,274.6 L255.4,272.8 L256.1,271.2 L258.4,270.4 L260.6,269.4 L261.2,266.8 L262.7,264.6 L265.4,263.5 L267.3,263.5 L268.9,262.5 M265,272.4 L263.7,273.5 L262.1,274.1 L262.1,276.2 L262.1,278.3 L263.6,279.5 L264.4,281.2 L267,279.4 L266.6,277.5 L266.1,275.6 L266,273.8 L265,272.4 M261.4,286.4 L260,287.9 L258.7,289.6 L260.9,289.7 L263,290.4 L262.4,288.6 L262.1,286.6 L261.4,286.4 M258.3,295 L256.4,296.2 L254.6,297.7 L256.3,298.1 L258.1,297.7 L258.3,295 M261.9,293.5 L260.6,294.8 L259.1,295.9 L260,295.6 L261.9,293.5 M292.4,262.1 L290.2,263.4 L291.7,265.2 L293.8,264.2 L292.4,262.1 M311.2,245.9 L309.7,247.7 L308.2,249.4 L307.1,251.4 L306.6,253.7 L306,255.9 L307.6,253.3 L308,251.2 L309.2,249.4 L310.7,247.9 L311.2,245.9 M282.4,212.5 L281.1,213.4 L279.8,214.3 L280.5,215.9 L280.8,217.5 L283.6,216.4 L283.3,214.4 L282.4,212.5 M247.2,298 L247.4,300 L247.1,301.9 L249.2,301.6 L251.4,302.1 L253.2,302.4 L254.9,303.2 L255,305 L255.9,306.7 L255.8,308.6 L254.5,310.9 L256.8,311.8 L256.3,315 L254.6,316.4 L252.8,315.8 L251.4,316.9 L250,317.9 L248,317.8 L248,319.6 L247.5,321.3 L247.4,323.6 L247.3,325.9 L246.2,326.2 L246.4,328.6 L245.8,330.9 L244.2,332.8 L243,334.2 L241.9,335.7 L241.4,337.6 L240.3,339 L239.7,339.9 L237.4,339.6 L235.3,338.9 L233.6,338.4 L231.9,337.7 L230.1,337.5 L227.6,338.4 L225.6,339.1 L223.5,338.9 L221.5,339.5 L220.8,340.6 L217.9,339.7 L215.9,339.4 L213.9,339.5 L212.2,338.6 L210.4,338.4 L212.5,337.9 L214.3,336.8 L212.5,336.5 L210.9,335.7 L209.1,335.7 L210.8,334.7 L212.6,333.7 L210.5,332.8 L208.8,331.3 L209.1,328.6 L210.7,328.3 L212.3,328.5 L214,328.3 L214.4,326.3 L217,325.2 L215.2,324.7 L217.9,324.2 L219.2,322.8 L220.5,321.4 L222.5,321.1 L224.2,320.2 L225.2,318.9 L223.8,317.9 L222,317.6 L220.7,316.6 L219,315.3 L217.6,313.8 L219.4,313.2 L221.1,312.5 L222.7,311.9 L223.9,310.9 L222.3,309.2 L220.8,307.4 L221.7,305.9 L223.1,304.9 L223.6,303.7 L225.1,305.2 L227.1,305.8 L228.8,307 L230.5,307.1 L232.1,307.6 L233.8,307.9 L235.6,306.4 L237.7,305.2 L235.9,304.6 L234.4,303.5 L234.4,302.5 L235.8,301.6 L237.3,300.7 L238.4,299.3 L239.8,298.4 L242.1,298.6 L244.9,298.7 L247.2,298 M246.5,302.4 L244.2,304.3 L242.1,305.5 L239.8,306.1 L238.5,307 L237.1,307.8 L238.2,310.3 L239.4,311.4 L240.6,312.6 L241.7,313.8 L244.3,313.4 L245.6,314.7 L246.5,316.3 L248.6,317.3 M370.2,325.8 L372,326.3 L373.9,325.9 L375.7,326.5 L377,328.3 L377.4,330.6 L376.3,332 L375.6,333.7 L372.6,333.3 L371.3,331.7 L369.6,330.4 L369.6,328.1 L370.2,325.8 M391.5,322.3 L391.7,324.5 L391.2,326.7 L389.5,328.1 L387.9,329.7 L389.6,331.8 L387.6,332.6 L386.3,334.3 L384.4,335.3 L383.1,334.2 L381.5,333.4 L380.3,332.2 L380,330.5 L380,328.8 L379.4,327.2 L379.1,325.6 L380.5,324.5 L382.1,323.8 L383.4,322.7 L385.4,322.3 L387.3,321.5 L389.4,321.3 L391.5,322.3 M378.4,335.3 L379.1,337.3 L379.5,339.3 L381.2,340.4 L383.1,340.8 L385,341.1 L385.4,338.9 L385.8,336.7 L384,336.2 L382.1,336.4 L380.3,335.7 L378.4,335.3 M406.3,332.9 L406.1,335 L406.8,336.9 L409.5,335.7 L407.6,334.6 L406.3,332.9 M433,299.1 L432.5,301.1 L432.9,303.2 L432.1,305 L431.8,307 L431.6,308.9 L431.9,310.9 L431.9,312.8 L433.7,310.2 L434.4,308.1 L435.8,306.3 L435.9,304.3 L436.5,302.4 L438.4,300.9 L439.9,299.1 L437.2,299.1 L435.1,299.2 L433,299.1 M424.6,306.9 L423.6,308.3 L423.6,310 L422.4,311.3 L421.7,312.8 L421.2,314.3 L420.8,315.9 L420.6,317.9 L420,319.9 L419.2,321.7 L419.7,319.9 L421.1,318.5 L421.1,316.5 L422.4,314.7 L422.7,312.7 L423.3,310.8 L424.2,308.9 L424.6,306.9 M458.2,290 L457.6,292 L458.2,293.9 L458.4,295.9 L458.6,297.9 L459,299.1 L460.3,297.8 L461.4,296.3 L461.9,294.4 L463.5,293.6 L465.3,293.6 L466.4,291.7 L467,289.5 L465,289.9 L463,290.4 L461.4,290.8 L459.8,290 L458.2,290 M461.3,284 L461.3,285.7 L460.8,287.3 L462.9,287.6 L464.9,288.3 L465.3,286.7 L464.7,285.1 L463.1,284.3 L461.3,284 M442.1,267 L443.3,268.8 L443.5,270.9 L446.1,271.5 L446.3,269.9 L446.1,268.2 L443.9,268.1 L442.1,267 M396.3,340.4 L397.8,342.2 L397.5,343.9 L398,345.5 L396.4,345.9 L394.9,346.6 L394.4,344.9 L393.6,343.2 L394.6,341.5 L396.3,340.4 M516.4,264.9 L514.9,264.1 L514.1,262.7 L512.8,261.7 L511.7,260.4 L510.9,258.8 L509.4,257.7 L508.5,256.2 L507.2,255 L506.6,253.3 L507.1,251.6 L508.1,250 L507.8,248 L508.6,246.3 L510.3,245.3 L511.4,243.5 L513.4,242.8 L514.6,241.2 M329.8,355.1 L329.4,356.8 L329.5,358.5 L328.8,360.2 L330,361.4 L331.7,362 L333.5,361.4 L334.9,360 L333.5,358 L332.8,355.6 L331.7,353.4 L329.8,355.1 M322.7,442.8 L324.2,441.5 L326.2,440.8 L328.1,440.2 L330,440.1 L329.3,441.6 L327.2,442.1 L325,442.6 L322.7,442.8 M385.8,281.7 L387,280.4 L387.7,278.9 L387.9,277.2 L388.4,275.6 L389.7,274.4 L390.3,272.9 L392,271.8 L393.5,270.3 L395.3,269.4 L395.7,267.8 L396.4,266.2 L395.8,264.3 L396.4,262.7 L397.3,261.1 L396.8,259.3 L397.5,257.7 L396.8,256.2 L396.4,254.6 L396.7,252.8 L395.6,251.4 L395.7,249.7 L395.1,247.8 L395.6,246 L395.7,244.1 L395.6,242.3 L395.3,240.4 L395.5,238.6 L396.3,236.8 L395.7,234.9 L396.3,233.1 L396.7,231.3 L397.2,229.7 L397.9,228.2 L398.2,226.5 L398.8,225 L399.7,223.6 L401.6,223.1 L402.8,221.5 L404.5,220.8 L406.3,220.2 L407.7,218.9 L407.8,217.3 L408.2,215.7 L408.7,214.2 L408.5,212.5 L409.3,211 L409.5,209.2 L410.8,207.8 L411.2,206.1 L412,204.5 L412,202.7 L412.7,201.1 L413.6,199.5 L414.2,197.9 L414.4,196.1 L414.6,194.3 L415.3,192.7 M494.1,260.9 L495.2,259.5 L495.5,257.7 L496.8,256.5 L497,254.6 L498.2,253.3 L499.8,252.1 L500.8,250.5 L501.8,248.8 L503,247.2 L504,245.7 L505.1,244.3 L506.2,242.8 L507.1,241.3 L508.1,239.7 L509.1,238.4 L509.4,236.5 L510.6,235.2 L511.7,233.9 L512.3,232.3 L511.7,230.8 L511.6,229 L510.6,227.6 L510,226 L508.6,224.9 L507.8,223.1 L506.1,222.2 L505,220.7 L503.8,219.4 L502.7,217.9 L501.2,216.8 L500.4,215.1 L500.7,213.1 L500,211.4 L499.4,209.6 L499.1,207.8 L498.4,206.3 L498.5,204.4 L497.9,202.9 L496.9,201.4 L496.8,199.8 L496.5,198.1 L497,196.4 L495.9,194.8 L495.8,193.2 L496.1,191.5 L496.1,189.8 L495.9,188.1 M497.3,275 L497.7,277.1 L497.3,279.2 L496.8,281.2 L495,282.3 L492.9,282.4 M498.5,296.2 L498.1,298.3 L497.2,300.3 M475,298.5 L476.7,298.3 L478.4,298.5 L480.1,298.8 L481.7,299.4 L483.2,298.5 L484.6,297.4 L486.3,297 L487.9,297.8 L489.7,298 L491.4,298.3 L492.9,299.4 L494.4,300.1 L496.2,300.4 L497.2,300.3 M497.2,300.3 L498,301.9 L499,303.3 L499,305.2 L499.5,306.9 L500.4,308.4 L500.9,310.3 L502,311.9 L502.9,313.5 L503.9,315.2 L504.3,317.8 M504.3,317.8 L502.8,319 L501.3,320.2 L499.9,321.5 L497.9,322 L496.5,323.4 L495.1,324.1 L493.8,325 M453,323.3 L454.5,322.3 L456.1,321.3 L457.8,320.7 L459.6,320.3 L461.1,319.3 L463,318.7 L464.8,318.3 L466.7,318.4 L468.6,318.1 L470.5,318 L472.2,318.2 L473.8,318 L475.5,317.9 L477.2,318.4 L478.9,318.3 L480.6,317.9 L482.2,318.4 L483.5,319.5 L484.8,320.5 L486.5,321.1 L487.6,322.4 L489,323.3 L490.6,324 L492.3,324.1 L493.8,325 M493.8,325 L493.9,326.9 L494.9,328.5 L495.8,330.1 L496.1,332 L494.8,333.2 L493.6,334.5 L492.4,335.8 L491,336.9 L489.9,338.3 L489.1,339.9 L488.8,341.7 L488.5,343.5 L488.1,345.3 L486.7,346.4 L485,346.5 L483.6,347.4 L482,348 L480.2,347.9 L478.8,348.8 L476.9,349.6 L474.8,349.9 L472.7,349.9 M472.7,349.9 L471.4,348.5 L470,347.4 L468.4,346.3 L467.1,345 M467.1,345 L466.9,343.2 L465.8,341.6 L465.3,339.8 L465.1,338 L463.6,337.4 L461.9,337.2 L460.5,336.3 L458.9,335.1 L457.2,333.8 L455.2,333.3 L453,333.6 M467.1,345 L465.4,344.7 L463.8,344.6 L462.1,345.4 L460.5,345 L458.8,344.5 L457.2,344.9 L455.6,344.7 L454,345 L452.4,345.1 L450.8,345.6 L449.2,345.8 L447.6,346.1 L446,345.3 L444.4,346.1 L442.8,346 M472.7,349.9 L472.9,351.7 L474.5,352.8 L474.4,354.8 L475.3,356.2 L476.4,357.6 L476.6,359.4 L476,360.9 L475.5,362.4 L475.1,364 L474.7,365.6 L474.3,367.1 L474.1,368.7 L474.2,370.5 L475,372.1 L475.3,373.9 L474.9,375.5 L475.5,377.1 L475.9,378.7 L475.8,380.4 M475.8,380.4 L476.1,382.2 L477.6,383.4 L478.2,385.1 L478.8,386.8 L479.5,388.4 L480.6,389.8 L480.4,391.8 L480.3,393.9 L479.4,395.8 L478.4,397.1 L477.4,398.5 L476.3,399.8 L475.8,401.5 L474.3,402.5 L473.4,403.9 L472.4,405.2 L471.7,406.8 L470.9,408.4 L470.5,410.1 L470.1,411.8 L469.6,413.5 M469.6,413.5 L468.1,412.6 L466.3,412.6 L464.9,411.6 L463.3,410.9 L461.7,410.3 L460,410.1 L458.3,410.5 L456.6,410.4 L454.9,409.8 L453.2,410 L451.5,410.7 L449.8,410.4 L448.4,411.3 L446.8,411.9 L445.6,413.1 L444.2,411.9 L442.4,411.3 L440.5,410.8 L438.9,409.8 L437.5,408.7 M437.5,408.7 L436,407.8 L435,406.6 L433.8,405.5 L433.2,403.8 L432,402.8 L430.7,401.3 L429.2,400.2 L427.8,398.8 L426.1,398.5 L424.5,399.5 L422.8,399.6 L421.1,399.4 L420,398.1 L418.7,397 L417.2,396.1 L416.3,394.7 L414.8,393.6 L413.1,393.1 L411.4,392.4 L409.7,391.8 L407.9,391.6 L406.1,390.9 L404.2,390.7 M404.2,390.7 L404.2,388.7 L404.9,386.9 L405.5,385.1 L405.4,383.2 L405,381.4 L404.6,379.6 L403.8,377.8 L404,375.9 L403.7,374.3 L404.3,372.6 L404.1,370.9 L403.5,369.3 L403.7,367.5 L402.6,365.7 L402.4,363.9 L402.4,362 L402.5,360.1 L402.6,358.3 L401.7,356.5 L401.6,354.7 L401.4,352.8 L401.5,350.9 M404.2,390.7 L402,390.4 L399.9,390.7 L398.2,391.2 L396.4,391.4 L395,392.8 L393.1,392.9 L391.6,394.1 L389.5,394.1 L388.1,395.6 L386.1,395.8 L384.5,396.8 L382.7,397.2 L381.1,397.8 L382.2,399 L383,400.4 L383.6,401.9 L384,403.7 L385.3,405.1 L385,407.2 L386.1,408.7 L387.6,409.6 L388.6,410.9 L389.4,412.4 L390.9,413.2 L391.3,415.1 L392.9,415.9 L394,417.2 M394,417.2 L392.7,419 L390.8,420.2 L389.7,421.6 L388.2,422.3 L386.7,423.1 L385.7,424.4 L386,426.1 L386,427.7 L385.9,429.4 L386,431 L384.4,431.6 L382.8,432.3 L381.4,433.3 L379.6,433.1 L377.9,432.7 L376.3,431.7 L374.5,431.3 L372.7,431.5 L371,431 L369.2,430.8 L367.7,432 L366,431.7 L364.3,432 L362.7,432.7 L361.2,432 L359.6,431.2 L357.8,431.1 L356.4,430 M355.9,429.9 L354.5,429 L353,428.6 L351.4,428.1 L349.9,427.5 L348.3,426.9 L346.7,427.3 L345,426.5 L343.4,426.9 L341.8,426.8 L340.1,427.2 L338.5,426.8 M338.5,426.8 L338.8,425.1 L338.5,423.3 L338.9,421.6 L339.8,420.2 L339.7,418.4 L340.5,417 L341.3,415.5 L342.2,414.1 L343.5,412.6 L345.3,411.6 L346.4,409.9 L344.6,409.7 L343.4,408.5 L341.6,408.3 L340.3,407.3 L338.7,406.7 L337.2,406.2 L335.8,405.2 L334.5,403.8 L333.1,402.5 L331.9,400.9 M331.9,400.9 L332.6,398.8 L333.8,396.9 L333,395.4 L331.9,394.1 L331.3,392.5 M331.3,392.5 L332.3,390.9 L332.1,389 L332.8,387.4 L332.9,385.6 L332,384 M332,384 L332.3,381.7 L333.4,379.6 L334,378 L333.1,376.3 L333.1,374.6 L333.3,373 L334.1,371.4 L333.9,369.7 L335.7,368.9 L337.5,368.5 L339.4,368.4 L341.2,367.7 L341.7,366 L343,364.9 L343.9,363.5 L344.3,361.7 L344.5,359.8 L345.8,358.3 L345.7,356.3 L346.1,354.5 L346.8,352.8 M360.7,335.1 L362.7,335.6 L364.6,336 L366.7,335.9 M312.1,372.1 L313.9,372.6 L315.5,373.3 L316.9,374.4 L318.9,374.6 L320.7,373.8 L322.7,373.6 L324.6,373.3 L326,374.2 L327.2,375.5 L328.9,376 L330.1,377.3 L331.6,377.9 L330.8,379.8 L330.5,381.8 L329.3,383.5 L332,384 M304.8,374.1 L305.9,375.6 L306.6,377.3 L307.9,378.6 L309,380.1 L310.1,381.3 L311.5,382.3 L312,384.1 L313.4,385.2 L314.4,386.6 L315,388.6 L315.2,390.7 L317,391.2 L318.7,391.8 L320.4,392.4 L321.5,393.7 L322.4,395 L323.1,396.5 L324.3,397.6 L324.7,399.3 L327.4,399.1 M327.4,399.1 L327.3,397.1 L327.7,395.2 L328,393.2 L330.7,391.7 M327.4,399.1 L328.7,400.1 L330.4,400.2 L331.9,400.9 M338.5,426.8 L336.6,427.1 L334.7,427.1 L332.9,427.9 L331.6,429 L330.5,430.4 L329.5,431.8 L328.5,433.2 L327.1,434.2 L326,435.6 L324.7,436.8 L323.1,437.6 L322.9,439.4 L322.2,441.1 L321.1,442.6 L323.9,443.7 L325.6,443 L327.3,442.2 L328.9,441.2 L329.9,442.7 L329.6,444.6 L330.4,446.2 L329.2,448 M329.2,448 L329.2,450 L329,451.9 L328,453.4 L327.5,455.2 L325.8,456.3 L325.2,458 L326.1,460 L326.4,462.1 L326.5,464.2 L327.7,465.7 L328.7,467.2 L329.8,468.8 L330.5,470.6 L332,471.8 L331.8,473.5 L330.4,474.8 L329.8,476.4 M241.8,462.2 L242.6,464.1 L243,466.1 L244,467.9 L245.5,469 L247,470 L248.6,471 L250.2,471.8 L252.2,472.1 L253.6,473.4 L255.1,474 L256.5,474.9 L258,475.5 L259.4,476.3 L261.2,476.4 L262.7,477.1 L264.5,477.4 L265.7,478.8 L267.5,479.1 L269,480.1 L270.6,481.4 L272.7,481.9 L274.2,483.4 L275.8,483.7 L277.4,484.3 L279.1,484.2 L280.6,484.8 L282.3,485 L283.7,486.1 L285.4,486.1 M169.9,458 L171.6,458.4 L173.4,458.3 L175.2,458.2 L176.9,458.3 L178,459.7 L179.8,460.1 L180.9,461.5 L182.7,462 L183.7,463.4 L185.2,464.4 L186.9,464.3 L188.5,464.3 L190,465.6 L191.7,465.4 L192.5,467.2 L192.3,469.2 L193.3,470.9 L191.8,471.8 L190.4,472.8 L188.9,473.8 L187.3,474.5 L186.3,476.2 L184.7,477 L183.4,478.3 L183.3,480.2 L182.7,481.9 L181.1,483 L180.7,484.8 L179.5,486.1 L177.7,486.8 L176,487.5 L174.9,489 L173.2,489.5 L171.8,490.7 L172,492.4 L172.2,494.1 L173.1,495.7 L172.8,497.5 L172.9,499.1 L173.6,500.8 L172.7,502.3 L170.9,503 L169.7,504.3 L169.1,506 L167.7,507.2 L167.4,509.1 L167.5,511 L168.6,512.7 L168.3,514.6 L166.6,515 L164.8,515.4 L163.2,516.2 L161.6,517.2 L161.8,518.8 L161.3,520.4 L160.9,522 M329.2,448 L331.1,448.2 L333.1,448.1 L335.1,448.3 L337,448.5 L338.3,447.2 L339.8,446.2 L341.4,445.5 L343.1,444.8 L344.4,445.9 L345.5,447.2 L346.4,448.6 L348,449.4 L348.5,447.7 L349.6,446.3 L351,445 L351.5,443.3 L353.2,444.2 L355.2,444 L356.7,445.1 L358.5,445.5 L360,444 L362,443.2 M362,443.2 L362.9,441.4 L362.9,439.4 L361.2,439 L359.8,438.1 L358.2,437.6 L356.7,437 L355.1,436.5 L355,434.8 L355.4,433.2 L355.5,431.5 L355.9,429.9 M362,443.2 L363.5,442.6 L364.8,441.6 L366.4,441 L367.8,440.2 L369.2,439.4 L371,439.5 L372.8,439.7 L374.6,439.2 L376.4,439.1 L378.2,438.9 L379.6,439.7 L381.1,440.4 L382.6,440.9 L384.2,441.5 L385.5,442.5 L387,442.9 L388.3,444 L389.6,444.9 L391.3,445.2 M391.3,445.2 L392.8,446 L394.4,446.5 L396.2,446.4 L397.8,446.7 L399.3,447.7 L401,447.2 L402.9,447.4 L404.7,446.7 L406.5,446.5 L408.4,446.8 L410.2,446.1 L411.3,444.4 L413,443.4 M413,443.4 L413.3,441.6 L414.5,440.2 L415.5,438.6 L416,436.9 L416.8,435.3 L418.4,434.1 L420.4,433.6 L422.2,432.8 L422,430.7 L422.7,428.8 M422.7,428.8 L422.6,427.2 L422.5,425.6 L421.2,424.2 L421.5,422.5 L421.1,421 M421.1,421 L419.3,419.6 L417.3,418.9 L415.7,418.6 L414,419 L412.4,418.9 L410.8,418.4 L409.1,418.7 L407.6,417.7 L406,417.9 L404.3,417.7 L404,415.1 L402.7,416.5 L400.9,417.3 L399.8,419 L398.2,420 L396.8,419.1 L395.4,418.1 L394,417.2 M421.1,421 L422.5,419.7 L424.4,419.6 L425.9,418.4 L427.3,417.6 L428.3,416.2 L429.7,415.4 L431.1,414.5 L432.2,413.2 L434,412.5 L435,411.1 L436.5,410.2 L437.5,408.7 M422.7,428.8 L424.3,429.6 L426,430 L427.8,429.9 L429.4,430.9 L431.2,430.8 L432.8,431.7 L434.5,432 L436.3,432.2 L437.9,431.3 L439.2,430 L441.1,429.5 L442.6,428.6 L444.1,427.6 L445.9,427.2 L447.5,426 L449.3,425.6 L451.1,425.4 L452.8,424.7 L454.6,424.6 L456.1,423.5 L457.9,423.7 L459.6,423.3 L461,421.9 L462.9,422.1 L464.4,421.3 L466.1,420.9 M466.1,420.9 L466.5,419.2 L467.2,417.8 L468.1,416.4 L468.4,414.8 L469.6,413.5 M466.1,420.9 L467,422.4 L468.3,423.7 L469.4,425 L470.4,426.6 L473,426.4 M473,426.4 L471.5,427.3 L470.1,428.4 L469.3,429.9 L468.1,431.2 L466.6,432.1 L465.5,433.4 L465,435 L464,436.4 L464.1,438.1 L463.8,439.8 L463.4,441.4 L462.3,442.7 L461.8,444.6 L461.1,446.3 L459.4,447.6 L459,449.5 L457.4,450.7 L456,452.1 L454.6,453.6 L452.6,452.8 L450.5,453 M450.5,453 L448.8,452.9 L447.1,452.9 L445.4,453.5 L443.6,453.2 L442.3,454.2 L440.6,454.7 L439,455.4 L437.7,456.5 M437.7,456.5 L435.8,457.1 L433.9,457.2 L431.9,457.7 L430,457.8 L428.3,457.5 L426.8,456.7 L425.3,455.9 L423.6,455.8 L422.7,454.2 L421.1,453.3 L419.4,452.5 L418.4,451.1 L417.3,449.7 L414.6,448.3 M414.6,448.3 L414.2,446.6 L414,444.9 L413,443.4 M391.3,445.2 L390.2,447.8 L390,449.5 L389.1,451 L389,453.1 L389.7,455 L389.8,457.1 L390.8,459 M389.3,460.3 L391.7,460 L393.9,460.6 L395.6,460.8 L397.2,460.2 L398.9,460.2 L400.5,459.6 L402.1,458.7 L403.7,457.7 L405.2,456.5 L406.5,455.3 L407.4,453.7 L408.1,452.1 L409.7,451 L411.3,450.1 L413.3,449.7 L414.6,448.3 M430.7,498.8 L428.9,497.7 L427.4,496.2 L425.8,494.8 L424.5,493.2 L423.8,491.3 L423,489.5 L422.2,488.1 L420.9,487 L420.1,485.5 L419.3,484.1 L418.1,482.9 L416.6,482 L415.5,480.6 L414.1,479.7 L412.8,478.6 L411.9,477 L411.7,475.2 L410.9,473.6 L410.2,471.9 L409.7,469.9 L409,468 L409,465.9 L410.8,466.2 L412.4,465 L414.2,465 L416,464.8 L417.8,465.4 L419.6,466.2 L421.6,465.9 L423.5,466.2 L425.2,467 L427.1,467.4 L428.9,467.8 L430.8,467.4 L432.6,468.1 L434.5,467.7 L436.2,468.2 L437.5,469.4 L439.2,469.7 M439.2,469.7 L439.1,467.6 L440.1,465.7 L439.8,463.8 L439.6,461.9 L438.5,460.3 L438.6,458.3 L437.7,456.5 M439.2,469.7 L439.9,471.3 L440.9,472.8 L442,474.2 L442.1,476.1 L443.1,477.6 L442.9,479.4 L442.4,481.1 L442.5,482.9 L442.4,484.7 L442,486.5 L441.3,488.2 M441.3,488.2 L439.6,489.4 L438.4,491.2 L436.5,492.2 L436.1,493.9 L435.2,495.3 L435,497.1 L434.2,498.6 L433.6,500.2 L434.9,502.1 M441.3,488.2 L442.9,488.9 L444.3,490 L446,490.4 L447.6,491 L449.1,492 L449.6,494 L451.4,495.3 L452.1,497.3 L451,499.2 L450.3,501.3 M450.3,501.3 L448.6,502.1 L447.1,503.3 L445.4,504.1 L444.4,505.7 L443.5,507.5 L443,509.4 M450.5,453 L451.4,454.4 L452.4,455.7 L453.5,457 L453.7,458.8 L454.4,460.3 L455.8,461.4 L457.3,462.2 L458.6,463.3 L459.7,464.6 L460.9,465.7 L462.5,466.4 L463.8,467.7 L465.4,468.5 L467,469.4 L468.5,470.2 L470.4,470.6 L471.6,471.9 L472.4,473.9 L472.9,475.9 L473.9,477.8 M473.9,477.8 L473.9,479.4 L473.8,481 L473.4,482.6 L473.1,484.2 L472.9,485.8 L474.3,487 L474.6,489 L475.6,490.5 L477,491.8 L477.7,493.4 L477.1,495.2 L476.3,496.8 L475.2,498.3 L473.8,499.6 L473.4,501.5 L472.4,503.1 M473.9,477.8 L475.3,478.9 L477.3,478.9 L478.8,479.7 L480.3,480.7 L482.1,481.1 L483.8,481.8 L485.2,483 L486.8,483.2 L488.5,482.9 L490.1,483.3 L491.8,482.9 L493.5,483 L495.1,483.7 L496.8,483.3 L498.5,482.7 L500,481.5 L501.8,481.1 L503.3,480 L505,479.2 L506.9,479 L508.6,478.4 L510.1,477.4 L511.7,476.9 L513.4,476.1 L515.2,476 L517,475.8 L518.7,476.4 L520.4,476.3 L522.1,476.6 L523.9,477 L525.6,476.9 L527.4,477.1 L529.1,477.3 L530.8,477.9 M473,426.4 L474.5,427.2 L476.3,426.9 L477.9,427.3 L479.5,428 L481.1,428.3 L482.8,428.3 L484.6,428.3 L486.3,428.2 L488,427.5 L489.7,426.8 L491.5,426.9 L493.2,426.6 L494.9,426 L496.7,426 L498.3,424.9 L500.1,425 L501.7,423.8 L503.5,423.8 L505.2,423.5 L505.4,421.5 M505.4,421.5 L506.8,422.7 L508.2,423.7 L508.9,425.5 L510.1,426.8 L511.8,427.6 L512.7,429.2 L514.1,430.3 L514.6,431.9 L515.8,433.1 L516.8,434.3 L517.4,435.9 L518.6,437.1 L519.3,438.5 L520.1,439.9 L521.3,441.1 L522,442.5 L522.1,444.2 L522.5,445.8 L522.6,447.4 L523.2,449 L522.9,450.7 L523.8,452.3 L523.6,453.9 L523.8,455.6 M505.4,421.5 L505.6,419.5 L507.4,419.8 L509.3,419.4 L511,420.5 L512.8,420.4 L514.6,420.1 L516.3,420.8 L517.9,421.8 L519.7,422.3 L521.3,423.1 L523.1,423.5 L524.9,424 L526.6,424.6 L527.3,426.1 L528.7,427.1 L529.6,428.4 L530.6,429.7 L531.6,430.9 L532,432.6 L533.3,433.6 L534.3,434.9 L535.4,436.1 L536.4,437.4 L537.4,438.6 L538.1,440.1 M475.8,380.4 L477.6,381 L479.4,381 L481.3,380.9 L483.1,381.1 L484.5,380.2 L485.9,379.4 L486.8,378 L488,376.9 L489.4,376.1 L490.7,375.1 L492.4,374.9 L494.2,375.1 L495.9,375 L497.6,374.8 L499.3,374.4 L501,374 L502.7,373.8 L504.4,373.9 L505.7,375.2 L507.4,375.5 L509,375.6 L510.6,376.3 L512.1,376.9 L513.9,376.7 L515.4,377.4 L517,377.1 L518.7,377.1 L520.1,375.9 L521.6,375.5 L523.4,375.9 L525,375.5 L526.4,374.2 L528.1,374.4 L529.7,374.1 L531.2,373.6 L532.7,372.5 L533.9,371.3 L535.2,370.1 L536.5,368.9 L537.8,367.7 L538.7,366.1 L540.3,365.3 M540.3,365.3 L540.1,363.5 L540.4,361.8 L541.2,360.1 L540.8,358.3 L541.1,356.6 L541.6,354.9 L541.2,353.1 L540,351.7 L539.2,350.1 L538.5,348.4 L538.3,346.5 L537.2,345 L536.2,343.5 L534.6,342.5 L533.3,341.2 L532.1,339.8 L531.4,338 L529.7,337 L528.5,335.7 L528.5,333.9 L528,332.2 L527.7,330.5 L526.8,328.9 L526.1,327.3 L525.9,325.5 L524.9,324 L524.3,322.3 L523.3,320.8 L521.9,319.6 L520.3,319.6 L518.7,319.3 L517.1,318.8 L515.5,319.1 L513.8,319.1 L512.2,318.8 L510.7,318.5 L509,318.6 L507.5,317.8 L505.9,317.7 L504.3,317.8 M472.4,503.1 L470.5,503 L468.7,503.7 L467,504.4 L465.1,504.8 L463.1,504.8 L461.1,504.3 L459.2,503.7 L457.8,502.7 L456.2,502.3 L454.5,502.2 L453.2,501.2 L451.8,500.3 L450.2,500 M450.3,501.3 L451.7,502.8 L453.4,504.2 L455.3,505.1 L454.9,507.5 L455.4,509.8 L455.2,511.5 L454.8,513.1 L455.3,514.9 L454.6,516.5 L455.1,518.1 L456,519.5 L456.9,520.8 L457.3,522.4 M457.3,522.4 L459.1,521.8 L461.1,521.8 L462.9,520.9 L464.8,520.8 L466.5,520.2 L468.2,519.7 L470,519.7 L471.6,518.6 L473.2,518 L475,517.6 L476.8,517.5 L478.4,517.2 L479.7,516 L481.5,516 L483.1,515.5 L484.6,515 L486.2,514 L487.7,513 L489.4,512.3 L490.8,510.9 L492.5,510.3 L494.2,509.5 L495.9,509.4 L497.5,509.1 L499.2,509.5 L500.9,509.3 L502.5,509 L504.2,509.1 L505.9,509.3 L507.5,509.6 L509.2,509.4 M472.4,503.1 L473.2,504.6 L474.4,505.6 L475.8,506.6 L476.3,508.3 L477,509.7 L478.3,510.7 L479,513 L478.6,515.4 M492.9,282.4 L494,284.5 L494.8,286.8 L496,288.2 L496.1,290.1 L496.8,291.8 L498.1,293.8 L498.5,296.2 M431.4,281.1 L428.4,280.2 L426.5,279.3 L424.4,279.4 L422.8,280 L421.1,280.3 L421.5,278.1 L423.6,278.9 L425.7,279.5 L427,278.3 L428.4,277.5 L430.4,279.5 M355.5,292.4 L354,290.7 L353.5,289.4 L353.5,287.9 L352,288 L351.8,286 L350.2,286.2 L349.4,285.1 L348.6,283.8 L348.3,282.4 L348.1,280.9 L348.6,279.3 L350,278.3 L350.2,277.1 L351,276.1 L350,275 L350.4,273.2 L349,272.3 L349.9,271 L349.2,269.3 L349.8,267.9 L350.9,266.6 L350,264.7 L351.3,263.5 L351.2,262.2 L351.5,260.8 L350.7,259.6 L350,258.3 L349.6,257 L350.5,255.4 L349.7,254.2 L350.3,252.9 L351.1,251.6 L350.5,250.1 L350.2,248.6 L350.5,247.3 L350.7,246 L351.4,244.9 L352.1,243.7 L352,241.9 L353.6,240.9 L354.1,239.4 L352.9,238.4 L353,237 L352.6,235.7 L353.8,235.4 L354.7,234.3 L356.2,234.9 L357.5,235 L358.4,233.6 L359.6,233.4 L360.6,232.5 L361.4,231.4 L363.2,231.3 L363.6,229.7 L365,229.8 L366.2,229.4 L366.9,228 L368,227.3 L368.9,226.3 L370.3,226.6 L370.9,225.1 L373,225.4 L373.6,223.9 L374.8,222.8 L375.7,221.6 L377,221.2 L378.3,220.5 L379.8,221.7 L380.9,219.8 L382.4,220.4 L383.1,219.3 L383.4,218 L384.1,216.8 L384.2,215.3 L385.3,214.7 L386,213.6 L386.7,212.5 L387.3,211.4 L388.2,210.5 L389.3,209.8 L389,208.1 L389.9,207.3 L391.4,206.8 L391.6,205.5 L393.1,205.2 L393.8,204 L394.1,202.4 L396,202.6 L397.1,201.9 L397.5,200.4 L398.5,199.4 L399.6,198.7 L399.8,197.5 L400.7,196.5 L400.4,195.1 L400.8,193.9 L402.7,193.3 L402.4,191.9 M354.5,293.2 L353.7,292.2 L352.8,291.2 L352.7,290 L352.5,288.8 L351.5,288.5 L350.3,288.4 L349.5,287.8 L348.7,287.2 L348.4,285.9 L348.5,284.8 L348.3,283.7 L348.3,282.6 L348,281.5 L346.8,280.8 L346.9,279.4 L347.3,278.2 L348.8,277.6 L349.7,276.3 L349.6,275.2 L348.4,274.6 L349,273 L347.7,272.5 L347.9,271.3 L348,270 L348.2,268.8 L348.6,267.6 L348.5,266.4 L349.4,265.5 L349,264.2 L350,263.4 L350.7,262 L350.2,260.9 L349.4,259.8 L349.9,258.5 L349.9,257.4 L349.2,256.4 L349.4,255.2 L348.4,254.2 L349.1,253.2 L348.8,252 L348.1,250.7 L349.3,249.8 L349.5,248.7 L349.9,247.6 L350.5,246.6 L351,245.6 L350.8,244.4 L350.8,243.2 L350.6,241.9 L351.1,240.9 L353,240.6 L352.8,239.3 L353.3,238 L352.1,237.1 L351.1,236.2 L351.7,234.9 L352.4,233.8 L353.5,233.4 L355.1,234.5 L355.8,233.2 L356.8,232.9 L358.1,233.2 L358.9,232.3 L359.4,231.2 L360.6,230.8 L361.4,230.2 L362,229.2 L362.9,228.6 L363.6,227.5 L364.8,227.6 L365.5,226.6 L366.6,226.5 L367.7,226.2 L368.5,225.4 L369.7,225.5 L371.3,225.4 L371.9,224.1 L372.7,223 L374.1,222.7 L375,221.8 L375.2,220.3 L376.2,219.8 L377.2,219.3 L378.6,220.8 L379.5,219.7 L380.6,219.9 L381.6,219.4 L382.7,218.4 L382,216.9 L382.9,215.9 L383.1,214.7 L383.4,213.6 L384,212.7 L384.4,211.6 L385.4,211 L386.1,210.2 L387.2,209.7 L388.2,209.1 L388.4,208 L389.4,207.5 L389.2,206.1 L389.6,205.1 L390.7,204.6 L391.6,204.1 L392,202.9 L393.4,203 L393.7,201.8 L394.3,200.9 L395.7,201 L395.8,199.4 L397.3,199.6 L397.6,198.4 L398.6,197.9 L398.2,196.7 L399.5,196.1 L399.9,195.2 L399.3,193.9 L400.3,193.2 L400.7,192.3 L401.2,191.4 M353.7,294 L351.8,291.7 L351.7,289.5 L350.6,288.1 L348.5,288.1 L347.5,286.6 L347.2,285.1 L347.7,283.3 L345.1,282.5 L345.7,280.7 L347.2,279.1 L347.9,277.1 L348.7,276.5 L347.4,274.7 L346.6,272.6 L346.9,270.9 L346.7,269 L347.5,267.3 L348.1,265.3 L348.9,263.3 L348.6,261.6 L348.3,259.9 L348.9,257.9 L348.5,256 L347.3,254.2 L348.6,252.8 L348.9,251.3 L348.2,249.5 L348.4,247.8 L349.6,246.4 L350.2,244.8 L349.8,242.9 L350,240.7 L351.7,239.2 L351.9,237.4 L351.3,235.8 L350.8,234.1 L352.1,232.9 L354,233.3 L355.5,232.8 L357,232.2 L358.4,231.3 L359,229.3 L361.7,229.6 L362.3,227.7 L363.9,226.6 L366,226.7 L367.1,224.6 L369.1,224.6 L370.7,223.5 L371.9,222.2 L372.7,220.1 L374.8,219.3 L376.4,219.2 L377.9,219.2 L379.4,218.5 L380.9,218.5 L381.8,217.2 L381.7,215.6 L382.1,214.1 L382.4,212.2 L383.4,210.9 L384.5,209.7 L386.3,209 L386.9,207.5 L388.9,207 L388.7,204.9 L389.9,203.9 L391.6,203.3 L392.7,201.9 L394.1,200.9 L395.3,199.7 L396,197.8 L397.7,197.2 L399.1,195.9 L398.7,194 L400.4,192.9 L400.1,190.9 M354,290.7 L354.6,289.8 M353.5,287.9 L354.7,287.2 M351.8,286 L352.7,285 M349.4,285.1 L351.5,283.7 M348.3,282.4 L350.1,283 M348.6,279.3 L350.9,279.8 M350.2,277.1 L352.9,277 M350,275 L352.5,273.3 M349,272.3 L351.8,269.9 M349.2,269.3 L350.9,268.6 M350.9,266.6 L353.6,266.5 M351.3,263.5 L353.5,264.4 M351.5,260.8 L354.1,259.5 M350,258.3 L351.5,257.1 M350.5,255.4 L351.9,255.7 M350.3,252.9 L352.4,256 M350.5,250.1 L353.4,247.4 M350.5,247.3 L353.5,246.3 M351.4,244.9 L353.5,247.7 M352,241.9 L353.1,244 M354.1,239.4 L356.5,238.8 M353,237 L355,237.5 M353.8,235.4 L355.4,237.6 M356.2,234.9 L355,236.8 M358.4,233.6 L358.9,234.7 M360.6,232.5 L361.7,233 M363.2,231.3 L363.8,232.1 M365,229.8 L366.6,233.2 M366.9,228 L367.9,228.9 M368.9,226.3 L369.3,227.3 M370.9,225.1 L372.8,226.6 M373.6,223.9 L376.9,225.5 M375.7,221.6 L378.1,222.9 M378.3,220.5 L379.2,224.3 M380.9,219.8 L382.8,221.3 M383.1,219.3 L384.5,219.2 M384.1,216.8 L386.2,216.3 M385.3,214.7 L386.8,216.5 M386.7,212.5 L387.7,213.7 M388.2,210.5 L388.9,211.5 M389,208.1 L392.2,209.4 M391.4,206.8 L392.3,207.1 M393.1,205.2 L394.1,205.8 M394.1,202.4 L394.2,204.9 M397.1,201.9 L398.4,203.6 M398.5,199.4 L398.7,201.2 M399.8,197.5 L401.9,197.7 M400.4,195.1 L401.9,194.4 M402.7,193.3 L403.2,194.5 M257.7,303.1 L258.8,302.2 L258.8,300.5 L260.2,299.9 L260.9,298.6 L261.7,297.5 L262.1,296 L263.6,295.4 L264.7,294.3 L263.8,292.7 L264.7,291.5 L264.9,290.1 L263.9,289.1 L263.4,287.9 L263.4,286.2 L262.3,285.3 L261.1,284.5 L262.2,283.3 L263.9,283.2 L265,282.1 L265.6,281 L266,279.8 L267,279 L267,276.9 L267.7,275.8 L267.9,274.4 L269,273.6 L270.6,273.8 L271.8,272.6 L273.4,272.6 L272.6,271.1 L273.9,269.5 L273.3,267.9 L274,266.7 L275.6,266.9 L276.5,266 L277.5,264.1 M256.7,302.3 L257.9,301.8 L258.3,300.8 L259.3,300.2 L258.8,298.5 L259.8,297.9 L260.5,296.7 L261.7,296.1 L262.4,294.9 L262,293.6 L263.9,292.9 L263.6,291.6 L263.6,290.4 L263.4,289.4 L262.7,288.6 L262,287.8 L260.9,287.3 L260.3,286.6 L260,285.6 L259.8,284.4 L260.1,283 L261.7,283.3 L262,282 L263.8,282.5 L264.1,281.2 L264,279.9 L265,279.2 L265.8,278.5 L266.5,277.4 L265.7,276.4 L266.6,275.6 L266.9,274.4 L268.1,273.7 L268.3,272.5 L269.3,272.1 L270.2,271.5 L271.5,273 L272.3,271.9 L273,270.7 L272.7,269.6 L271.7,268.5 L272.1,267.3 L273,266.8 L273.4,265.5 L274.2,264.8 L275.6,265 L276.3,263.5 M255.8,301.7 L257.6,300.7 L257.8,298.6 L259,297.2 L259.7,295.4 L261.4,294.4 L262.6,292.7 L262.6,290.6 L261.6,289.1 L260.9,287.3 L259,286.4 L258.7,284.4 L259.8,283.3 L260.9,282.3 L261.9,281 L263.4,280.4 L264.8,278.1 L264.7,276 L265.1,274.2 L267.4,273.5 L267.7,271.6 L269.6,271.9 L271.4,271.2 L271.4,269 L271.1,266.9 L272.1,265.6 L273.8,265.3 L274.9,264.2 L275.4,263 M258.8,302.2 L261,301.7 M260.2,299.9 L261.7,302.3 M261.7,297.5 L264.4,300.4 M263.6,295.4 L264.4,296.3 M263.8,292.7 L264.7,292.1 M264.9,290.1 L266.8,288.6 M263.4,287.9 L264.6,287.8 M262.3,285.3 L265.6,283.5 M262.2,283.3 L262.9,284.2 M265,282.1 L265.9,282.7 M266,279.8 L269.7,280.6 M267,276.9 L270.1,277.6 M267.9,274.4 L269.5,276.5 M270.6,273.8 L271.6,275.5 M273.4,272.6 L276.6,272.7 M273.9,269.5 L275.3,269.6 M274,266.7 L275.3,268.5 M276.5,266 L277.4,267.5 M436.3,271 L436.3,272.5 L436.3,274 L435.7,275.5 L435,277 L434.7,278.5 L435.1,280.2 L433.3,280.5 L431.7,281.5 L430.3,282.1 L430.9,283.9 L429.8,284.7 L428.5,285.3 L428.3,286.7 M437.6,271.2 L436.5,272.2 L437.9,273.5 L436.7,274.5 L437,275.7 L437.4,276.8 L436.9,277.8 L436,278.7 L435.8,279.8 L436.1,280.9 L435.3,282.2 L434,282.4 L432.6,282.4 L431.2,282.9 L431.2,284.3 L430.6,285.3 L430.5,286.7 L429.4,287.4 M438.7,271.4 L438.5,273.6 L438.1,275.8 L438.2,277.8 L438.2,279.8 L437.1,281.5 L435.4,282.8 L433.4,283.2 L432.3,284.7 L431.3,286.4 L430.3,288 M436.3,272.5 L433.7,272.9 M435.7,275.5 L434.2,273.7 M434.7,278.5 L431.3,276.9 M433.3,280.5 L432.9,278.8 M430.3,282.1 L427.1,281.7 M429.8,284.7 L429.5,282.2 M351.3,265.5 L352.3,265.1 L353.8,264.9 L355.1,264.2 L356.7,264.9 M356.6,263.1 L357.8,262.7 L358.3,261.3 L359.6,261 L360.9,260.3 M350.7,250.8 L352.4,250.4 L354,249.5 L355.7,249.7 L356.9,250.3 L358.1,250.6 L359.4,251 L361,250.5 L362.6,250.8 L364.1,251.2 L364.9,252.5 M362.6,250.8 L363.2,249.2 L364.4,247.8 M353.7,240 L354.8,240.5 L356.1,240.7 L357.2,241.3 L358.5,241.5 L359.8,241 L361,241.6 L362.2,241.5 M359.7,234.4 L361.1,234.6 L361.7,236.1 L363.1,236.3 L364.3,237.6 L365.1,239.3 M364.7,230.5 L366.1,230.9 L366.6,232.5 L368.1,232.9 L369,233.9 M369.3,228.6 L370.3,229.3 L371.5,229.9 L372.4,230.8 L373.2,231.7 L374.1,232.7 M382.9,221.2 L384.1,222 L385,223.2 L386.1,224.2 L387.5,223.2 L389.2,222.6 L390.1,221.5 L390.8,220.1 L392.2,219.4 L393.2,218.3 M350.1,277.3 L351.6,277.9 L353,278.7 L354.7,278.7 M349.8,275.2 L351.4,274.7 L352.8,273.8 L353.8,272 M391.6,211.5 L392.9,210.8 L394.5,211.2 M383.2,218.6 L384.7,217.6 L386.3,216.9" fill="none" stroke="#5a8bc9" stroke-width="1.0" stroke-linejoin="round"/>
<path d="M282.4,212.5 L279.8,214.3 L280.8,217.5 L283.6,216.4 L282.4,212.5Z" fill="#6d97cd" stroke="#5a8bc9" stroke-width="0.8"/>
<path d="M311.2,245.9 L308.2,249.4 L306.6,253.7 L306,255.9 L307.6,253.3 L309.2,249.4 L311.2,245.9Z" fill="#6d97cd" stroke="#5a8bc9" stroke-width="0.8"/>
<path d="M292.4,262.1 L290.2,263.4 L291.7,265.2 L293.8,264.2 L292.4,262.1Z" fill="#6d97cd" stroke="#5a8bc9" stroke-width="0.8"/>
<path d="M442.1,267 L443.5,270.9 L446.1,271.5 L446.1,268.2 L442.1,267Z" fill="#6d97cd" stroke="#5a8bc9" stroke-width="0.8"/>
<path d="M434.9,345.4 L432.8,344 L430.9,342.7 L429.1,341.5 L427.3,340.4 L425.6,339.2 L424,338.1 L422.3,337 L420.7,335.9 L419,334.8 L417.3,333.6 L415.5,332.3 L413.6,331 L411.8,329.7 L410.1,328.4 L408.5,327.2 L407.1,326.1 L405.7,325.1 L404.4,324.1 L403.2,323 L401.9,322 L400.6,320.9 L399.2,319.8 L397.8,318.7 L396.2,317.4 L394.6,316.1 L393.2,314.9 L391.9,313.8 L390.6,312.7 L389.5,311.6 L388.3,310.6 L387.2,309.6 L386,308.6 L384.9,307.7 L383.7,306.7 L382.4,305.8 L381,304.8 L379.6,303.9 L378.3,303 L377.1,302.1 L376,301.4 L375,300.7 L373.9,300.1 L372.9,299.5 L371.9,299 L370.8,298.6 L369.8,298.3 L368.7,298.1 L367.5,298 L366.4,298 L365.4,298 L364.5,298.2 L363.6,298.4 L362.9,298.8 L362.1,299.2 L361.4,299.7 L360.6,300.3 L359.8,300.9 L358.9,301.6 L357.9,302.4 L356.8,303.3 L355.6,304.2 L354.5,305.2 L353.3,306.2 L352.2,307.2 L351.1,308.2 L350,309.3 L348.9,310.3 L347.9,311.4 L346.8,312.6 L345.8,313.7 L344.7,314.8 L343.7,316 L342.7,317.1 L341.9,318.1 L341.2,319 L340.5,319.9 L339.9,320.7 L339.4,321.5 L338.9,322.2 L338.4,323 L337.9,323.8 L337.4,324.6 L336.8,325.5 L336.2,326.5 L335.6,327.5 L335,328.4 L334.5,329.2 L334.1,330 L333.6,330.8 L333.2,331.6 L332.8,332.3 L332.4,333.1 L332,333.9 L331.6,334.7 L331.1,335.6 L330.5,336.5 L329.9,337.4 L329.4,338.3 L328.9,339.1 L328.4,339.8 L327.9,340.5 L327.4,341.2 L326.9,342 L326.4,342.7 L326,343.4 L325.5,344.2 L325,345.1 L324.5,346 L324,347 L323.6,347.9 L323.1,348.8 L322.8,349.7 L322.4,350.6 L322.1,351.4 L321.8,352.3 L321.5,353.1 L321.2,353.8 L320.9,354.6 L320.7,355.3 L320.4,356 L320.2,356.6 L320,356.9 L319.9,357.1 L319.8,357.2 L319.8,357.2 L319.7,357.2 L319.7,357.2 L319.7,357.3 L319.7,357.6 L319.6,358 L319.6,358.6 L319.5,359.5 L319.4,360.6 L319.3,361.7 L319.2,363 L319.1,364.3 L319,365.7 L319,367.1 L318.9,368.6 L318.8,370.2 L318.7,371.8 L318.6,373.4 L318.5,375.1 L318.4,376.8" fill="none" stroke="#ff0000" stroke-width="2"/>
<polygon points="413.6,328.1 410.6,332.9 416.6,332.9" fill="#ff0000"/>
<polygon points="396.2,314.5 393.2,319.3 399.2,319.3" fill="#ff0000"/>
<polygon points="381,301.9 378,306.7 384,306.7" fill="#ff0000"/>
<polygon points="367.5,295.1 364.5,299.9 370.5,299.9" fill="#ff0000"/>
<polygon points="356.8,300.4 353.8,305.2 359.8,305.2" fill="#ff0000"/>
<polygon points="343.7,313.1 340.7,317.9 346.7,317.9" fill="#ff0000"/>
<polygon points="319.5,356.6 316.5,361.4 322.5,361.4" fill="#ff0000"/>
<polygon points="318.4,372.7 314.4,379.5 322.4,379.5" fill="#ff0000"/>
<path d="M454.3,374.6 L452.9,373.1 L451.7,371.8 L450.6,370.5 L449.6,369.2 L448.6,368 L447.7,366.8 L446.7,365.7 L445.6,364.5 L444.4,363.3 L443,362.1 L441.4,360.8 L439.5,359.5 L437.5,358.2 L435.6,357 L433.6,355.9 L431.7,354.9 L429.7,353.9 L427.7,353 L425.7,352.1 L423.6,351.2 L421.4,350.2 L419.1,349.3 L416.8,348.3 L414.3,347.2 L411.8,346.1 L409.5,345.1 L407.3,344.2 L405.3,343.4 L403.2,342.6 L401.2,341.8 L399.3,341 L397.3,340.3 L395.3,339.5 L393.1,338.7 L390.9,337.9 L388.6,337 L386.3,336.1 L384.2,335.2 L382.2,334.4 L380.4,333.5 L378.7,332.8 L377,332 L375.4,331.3 L373.7,330.7 L371.9,330.2 L370.1,329.7 L368.2,329.2 L366.1,328.9 L364,328.7 L361.9,328.6 L359.9,328.6 L358,328.7 L356.1,329 L354.3,329.2 L352.6,329.5 L351,329.9 L349.4,330.2 L347.8,330.5 L346.3,330.8 L344.9,331 L343.6,331.2 L342.6,331.3 L341.8,331.4 L341.1,331.5 L340.6,331.6 L340.2,331.7 L339.9,331.8 L339.6,331.9 L339.3,332.1 L338.9,332.2 L338.5,332.4 L338,332.6 L337.4,332.8 L336.9,333.1 L336.5,333.3 L336,333.5 L335.6,333.8 L335.2,334 L334.9,334.2 L334.5,334.5 L334.2,334.8 L333.9,335 L333.5,335.3 L333.2,335.6 L332.9,335.9 L332.6,336.1 L332.4,336.3 L332.2,336.5 L332.1,336.6 L332,336.8 L331.9,337 L331.7,337.2 L331.6,337.4 L331.4,337.7 L331.2,338.1 L331,338.5 L330.7,339 L330.4,339.5 L330.1,340 L329.8,340.5 L329.5,341 L329.2,341.6 L329,342.1 L328.7,342.7 L328.4,343.2 L328.2,343.8 L328,344.4 L327.8,345 L327.6,345.6 L327.5,346.1 L327.4,346.5 L327.4,347 L327.3,347.4 L327.3,347.8 L327.3,348.1 L327.3,348.5 L327.4,349 L327.4,349.4 L327.5,349.9 L327.6,350.5 L327.7,351.1 L327.8,351.6 L328,352.2 L328.1,352.7 L328.3,353.2 L328.4,353.7 L328.6,354.2 L328.8,354.7 L329,355.2 L329.2,355.8 L329.4,356.4 L329.6,357" fill="none" stroke="#ff0000" stroke-width="2"/>
<polygon points="439.5,356.6 436.5,361.4 442.5,361.4" fill="#ff0000"/>
<polygon points="414.3,344.3 411.3,349.1 417.3,349.1" fill="#ff0000"/>
<polygon points="388.6,334.1 385.6,338.9 391.6,338.9" fill="#ff0000"/>
<polygon points="366.1,324.8 362.1,331.6 370.1,331.6" fill="#ff0000"/>
<polygon points="344.9,328.1 341.9,332.9 347.9,332.9" fill="#ff0000"/>
<polygon points="331,335.6 328,340.4 334,340.4" fill="#ff0000"/>
<polygon points="329.6,354.1 326.6,358.9 332.6,358.9" fill="#ff0000"/>
<path d="M462.7,404.3 L461.4,403.5 L460.3,402.7 L459.2,402 L458.2,401.2 L457.2,400.5 L456.3,399.8 L455.3,399.2 L454.3,398.5 L453.2,397.9 L452,397.3 L450.6,396.7 L449.1,396.1 L447.5,395.6 L445.9,395.1 L444.4,394.8 L442.8,394.4 L441.3,394.2 L439.7,394 L438.2,393.8 L436.7,393.6 L435.2,393.4 L433.6,393.2 L432.1,393 L430.5,392.7 L429,392.4 L427.7,392.1 L426.5,391.7 L425.5,391.4 L424.5,391 L423.6,390.7 L422.7,390.5 L421.8,390.3 L420.9,390.1 L419.9,390.1 L418.8,390.1 L417.7,390.3 L416.6,390.6 L415.5,390.9 L414.6,391.4 L413.7,391.9 L412.8,392.5 L412,393.1 L411.2,393.7 L410.3,394.4 L409.4,395.1 L408.5,395.9 L407.4,396.6 L406.3,397.3 L405.1,398 L404,398.7 L402.8,399.3 L401.7,399.9 L400.7,400.5 L399.6,401.1 L398.6,401.7 L397.5,402.2 L396.5,402.8 L395.5,403.4 L394.5,404 L393.5,404.6 L392.5,405.2 L391.7,405.6 L390.9,406 L390.2,406.4 L389.6,406.7 L389,407 L388.4,407.3 L387.9,407.7 L387.5,408.1 L387,408.6 L386.5,409.1 L386,409.8 L385.5,410.6 L385.1,411.3 L384.8,412.1 L384.5,412.9 L384.3,413.7 L384.1,414.5 L383.9,415.4 L383.8,416.2 L383.7,417 L383.6,417.9 L383.5,418.7 L383.4,419.5 L383.3,420.3 L383.3,420.9 L383.3,421.5 L383.4,422.1 L383.4,422.6 L383.5,423 L383.6,423.5 L383.7,423.9 L383.8,424.4 L383.9,424.9 L384,425.5 L384.1,426.1" fill="none" stroke="#ff0000" stroke-width="2"/>
<polygon points="449.1,393.2 446.1,398 452.1,398" fill="#ff0000"/>
<polygon points="430.5,389.8 427.5,394.6 433.5,394.6" fill="#ff0000"/>
<polygon points="417.7,387.4 414.7,392.2 420.7,392.2" fill="#ff0000"/>
<polygon points="406.3,393.2 402.3,400 410.3,400" fill="#ff0000"/>
<polygon points="393.5,401.7 390.5,406.5 396.5,406.5" fill="#ff0000"/>
<polygon points="386,406.9 383,411.7 389,411.7" fill="#ff0000"/>
<polygon points="383.4,416.6 380.4,421.4 386.4,421.4" fill="#ff0000"/>
<polygon points="384.1,422 380.1,428.8 388.1,428.8" fill="#ff0000"/>
<path d="M434.9,345.4 L433.4,344.4 L432.1,343.5 L430.9,342.6 L429.7,341.8 L428.6,341 L427.5,340.3 L426.4,339.5 L425.2,338.7 L424,337.9 L422.7,337 L421.3,336.2 L419.7,335.2 L418.1,334.2 L416.6,333.3 L415.2,332.5 L413.8,331.7 L412.5,330.9 L411.2,330.1 L409.8,329.4 L408.5,328.6 L407,327.9 L405.5,327.1 L403.9,326.4 L402.2,325.6 L400.5,324.8 L398.8,324.1 L397.3,323.5 L395.8,322.9 L394.4,322.3 L393,321.8 L391.6,321.3 L390.2,320.9 L388.7,320.5 L387.2,320.1 L385.6,319.7 L383.9,319.3 L382.2,318.9 L380.7,318.6 L379.2,318.4 L377.9,318.1 L376.6,317.9 L375.3,317.8 L374.1,317.7 L372.8,317.7 L371.5,317.7 L370.1,317.8 L368.7,318 L367.1,318.3 L365.5,318.7 L363.9,319.1 L362.4,319.7 L361,320.3 L359.6,321 L358.2,321.6 L356.9,322.4 L355.7,323.1 L354.5,323.7 L353.3,324.4 L352.1,325 L351,325.5 L350,325.9 L349.2,326.3 L348.5,326.5 L347.9,326.7 L347.5,326.9 L347.1,327 L346.8,327.1 L346.5,327.2 L346.2,327.3 L345.8,327.5 L345.4,327.7 L344.9,327.9 L344.4,328.2 L343.9,328.4 L343.4,328.6 L343,328.8 L342.6,329.1 L342.2,329.3 L341.8,329.5 L341.4,329.7 L341,330 L340.6,330.3 L340.2,330.6 L339.8,331 L339.4,331.4 L339,331.8 L338.7,332.2 L338.4,332.5 L338.1,332.9 L337.8,333.3 L337.6,333.7 L337.3,334.1 L337,334.5 L336.8,334.9 L336.5,335.3 L336.2,335.7 L335.9,336.1 L335.6,336.4 L335.4,336.6 L335.2,336.8 L335,337 L334.8,337.2 L334.6,337.5 L334.4,337.7 L334.2,338 L334,338.4 L333.8,338.9 L333.5,339.5 L333.2,340.2 L333,340.9 L332.7,341.6 L332.5,342.4 L332.2,343.2 L332,344 L331.8,344.8 L331.5,345.6 L331.3,346.5 L331,347.3 L330.8,348.2 L330.5,349 L330.2,349.8 L330,350.5 L329.8,351.1 L329.6,351.7 L329.5,352.2 L329.3,352.7 L329.1,353.3 L328.9,353.8 L328.7,354.3 L328.4,354.9 L328.1,355.6 L327.7,356.3 L327.3,357.1 L326.9,357.8 L326.4,358.5 L326,359.2 L325.6,359.9 L325.1,360.6 L324.7,361.3 L324.2,361.9 L323.7,362.6 L323.2,363.2 L322.6,363.9 L322,364.5 L321.4,365.1 L320.8,365.6 L320.3,366.1 L319.8,366.4 L319.2,366.8 L318.7,367.1 L318.2,367.4 L317.7,367.7 L317.1,368 L316.6,368.4 L315.9,368.8 L315.3,369.2" fill="none" stroke="#0000ff" stroke-width="2"/>
<rect x="417.4" y="332.9" width="4.6" height="4.6" fill="#0000ff"/>
<rect x="399.9" y="323.3" width="4.6" height="4.6" fill="#0000ff"/>
<rect x="381.6" y="317" width="4.6" height="4.6" fill="#0000ff"/>
<rect x="363.8" y="315" width="6.6" height="6.6" fill="#0000ff"/>
<rect x="348.7" y="323.2" width="4.6" height="4.6" fill="#0000ff"/>
<rect x="331.2" y="337.2" width="4.6" height="4.6" fill="#0000ff"/>
<rect x="325.4" y="354" width="4.6" height="4.6" fill="#0000ff"/>
<rect x="312" y="365.9" width="6.6" height="6.6" fill="#0000ff"/>
<path d="M454.3,374.6 L451.8,373.7 L449.6,373 L447.4,372.2 L445.4,371.6 L443.5,370.9 L441.6,370.3 L439.7,369.6 L437.7,368.9 L435.7,368.2 L433.5,367.4 L431.1,366.5 L428.6,365.5 L426.1,364.4 L423.7,363.4 L421.5,362.4 L419.4,361.4 L417.3,360.4 L415.3,359.4 L413.3,358.4 L411.1,357.4 L408.9,356.4 L406.5,355.4 L403.9,354.4 L401.1,353.4 L398.3,352.4 L395.6,351.6 L393.1,350.8 L390.7,350.1 L388.4,349.4 L386.1,348.8 L383.7,348.2 L381.2,347.7 L378.6,347.1 L375.7,346.5 L372.6,345.9 L369.2,345.3 L365.7,344.6 L362.3,344 L359.1,343.4 L355.9,342.8 L352.8,342.3 L349.6,341.8 L346.5,341.3 L343.3,341 L340.1,340.7 L336.7,340.4 L333.2,340.3 L329.5,340.3 L325.9,340.4 L322.6,340.6 L319.6,340.9 L316.8,341.3 L314.1,341.8 L311.5,342.3 L308.9,342.9 L306.2,343.5 L303.5,344.1 L300.5,344.8 L297.3,345.4 L293.8,346 L290.3,346.6 L287,347.1 L283.9,347.6 L281,348.1 L278.2,348.6 L275.4,349 L272.6,349.5 L269.7,350 L266.6,350.5 L263.4,351 L259.9,351.6 L256.1,352.2 L252.3,352.8 L248.6,353.5 L245.2,354.1 L241.9,354.7 L238.7,355.3 L235.5,355.9 L232.3,356.5 L229,357 L225.7,357.5 L222.2,357.9 L218.5,358.3 L214.5,358.6 L210.6,358.8 L206.9,359 L203.6,359 L200.4,359 L197.3,359 L194.3,358.9 L191.2,358.7 L188.2,358.6 L185,358.4 L181.6,358.3 L178.1,358.2 L174.2,358.1" fill="none" stroke="#0000ff" stroke-width="2"/>
<rect x="426.3" y="363.2" width="4.6" height="4.6" fill="#0000ff"/>
<rect x="398.8" y="351.1" width="4.6" height="4.6" fill="#0000ff"/>
<rect x="366.9" y="343" width="4.6" height="4.6" fill="#0000ff"/>
<rect x="326.2" y="337" width="6.6" height="6.6" fill="#0000ff"/>
<rect x="291.5" y="343.7" width="4.6" height="4.6" fill="#0000ff"/>
<rect x="253.8" y="349.9" width="4.6" height="4.6" fill="#0000ff"/>
<rect x="212.2" y="356.3" width="4.6" height="4.6" fill="#0000ff"/>
<rect x="170.9" y="354.8" width="6.6" height="6.6" fill="#0000ff"/>
<path d="M462.7,404.3 L460.4,403.6 L458.2,402.9 L456.2,402.3 L454.3,401.7 L452.4,401.2 L450.6,400.6 L448.7,400 L446.9,399.5 L445,398.8 L443.1,398.2 L441,397.4 L438.8,396.6 L436.6,395.7 L434.7,394.9 L432.9,394 L431.2,393.2 L429.6,392.4 L428,391.5 L426.4,390.7 L424.8,389.9 L423.2,389.1 L421.4,388.4 L419.4,387.6 L417.3,386.8 L415.2,386.1 L413.2,385.5 L411.4,385 L409.6,384.6 L407.9,384.2 L406.2,383.9 L404.5,383.5 L402.7,383.2 L400.8,382.8 L398.8,382.3 L396.5,381.8 L394,381.2 L391.4,380.5 L389,379.7 L386.6,378.9 L384.4,378 L382.1,377.2 L379.8,376.4 L377.6,375.6 L375.2,374.9 L372.8,374.3 L370.2,373.8 L367.4,373.4 L364.5,373.2 L361.5,373.1 L358.7,373.2 L356,373.3 L353.4,373.6 L350.8,374 L348.3,374.5 L345.8,375 L343.4,375.6 L340.9,376.2 L338.4,376.9 L335.8,377.6 L333.2,378.3 L330.6,379 L328.3,379.7 L326.2,380.3 L324.2,380.9 L322.3,381.6 L320.6,382.2 L318.9,382.9 L317.3,383.7 L315.8,384.5 L314.2,385.4 L312.6,386.4 L310.9,387.5 L309.3,388.7 L307.9,389.9 L306.6,391.1 L305.6,392.3 L304.6,393.5 L303.7,394.7 L302.9,395.9 L302.1,397 L301.4,398.2 L300.6,399.3 L299.8,400.4 L298.9,401.4 L298.1,402.3 L297.3,403.1 L296.7,403.7 L296.2,404.2 L295.7,404.7 L295.3,405 L294.9,405.4 L294.5,405.7 L294.1,406.1 L293.7,406.5 L293.2,406.9 L292.6,407.5" fill="none" stroke="#0000ff" stroke-width="2"/>
<rect x="436.5" y="394.3" width="4.6" height="4.6" fill="#0000ff"/>
<rect x="415" y="384.5" width="4.6" height="4.6" fill="#0000ff"/>
<rect x="391.7" y="378.9" width="4.6" height="4.6" fill="#0000ff"/>
<rect x="361.2" y="369.9" width="6.6" height="6.6" fill="#0000ff"/>
<rect x="330.9" y="376" width="4.6" height="4.6" fill="#0000ff"/>
<rect x="308.6" y="385.2" width="4.6" height="4.6" fill="#0000ff"/>
<rect x="296.6" y="399.1" width="4.6" height="4.6" fill="#0000ff"/>
<rect x="289.3" y="404.2" width="6.6" height="6.6" fill="#0000ff"/>
<path d="M434.9,345.4 L432,344.3 L429.3,343.4 L426.8,342.4 L424.5,341.5 L422.2,340.6 L420,339.8 L417.7,339 L415.4,338.1 L413,337.3 L410.5,336.4 L407.7,335.5 L404.7,334.5 L401.7,333.6 L398.9,332.7 L396.2,331.9 L393.7,331.1 L391.3,330.4 L388.8,329.7 L386.4,329 L383.9,328.4 L381.2,327.7 L378.5,327 L375.5,326.3 L372.2,325.6 L368.9,324.9 L365.9,324.3 L363,323.8 L360.2,323.4 L357.5,323 L354.8,322.6 L352.1,322.2 L349.4,321.8 L346.5,321.3 L343.5,320.7 L340.3,320 L336.8,319.2 L333.3,318.3 L330.2,317.4 L327.2,316.6 L324.3,315.7 L321.5,314.8 L318.8,313.9 L316.1,313 L313.3,312.1 L310.3,311.1 L307.2,310 L303.9,309 L300.3,307.8 L296.6,306.7 L293.2,305.7 L289.9,304.8 L286.8,303.9 L283.7,303.1 L280.7,302.3 L277.7,301.4 L274.6,300.5 L271.5,299.5 L268.3,298.3 L264.9,297 L261.4,295.5 L257.9,293.9 L254.7,292.4 L251.7,291 L248.9,289.5 L246.3,288.1 L243.7,286.6 L241.2,285.1 L238.6,283.4 L236,281.7 L233.3,279.8 L230.3,277.7 L227.2,275.5 L224.1,273.2 L221.2,271 L218.5,268.9 L216,266.8 L213.5,264.8 L211.2,262.7 L208.8,260.6 L206.5,258.4 L204.1,256.1 L201.5,253.7 L198.8,251.2 L195.9,248.5 L193,245.8 L190.3,243.3 L187.9,240.9 L185.5,238.6 L183.3,236.3 L181.1,234.1 L178.9,231.9 L176.7,229.6 L174.4,227.3 L172,224.8 L169.4,222.2 L166.6,219.4" fill="none" stroke="#00ff00" stroke-width="2"/>
<circle cx="404.7" cy="334.5" r="2.4" fill="#00ff00"/>
<circle cx="372.2" cy="325.6" r="2.4" fill="#00ff00"/>
<circle cx="336.8" cy="319.2" r="2.4" fill="#00ff00"/>
<circle cx="300.3" cy="307.8" r="3.6" fill="#00ff00"/>
<circle cx="261.4" cy="295.5" r="2.4" fill="#00ff00"/>
<circle cx="227.2" cy="275.5" r="2.4" fill="#00ff00"/>
<circle cx="195.9" cy="248.5" r="2.4" fill="#00ff00"/>
<circle cx="166.6" cy="219.4" r="3.6" fill="#00ff00"/>
<path d="M454.3,374.6 L451.1,373.5 L448.1,372.5 L445.3,371.5 L442.7,370.6 L440.2,369.7 L437.7,368.8 L435.2,367.9 L432.6,367.1 L429.9,366.2 L427,365.2 L424,364.2 L420.6,363.2 L417.2,362.2 L414.1,361.2 L411.1,360.3 L408.2,359.4 L405.5,358.5 L402.7,357.7 L399.9,357 L397.1,356.2 L394.1,355.4 L391,354.7 L387.6,353.9 L384,353.1 L380.3,352.4 L376.9,351.7 L373.7,351.2 L370.6,350.8 L367.6,350.4 L364.7,350 L361.7,349.6 L358.7,349.2 L355.5,348.8 L352.2,348.4 L348.6,347.8 L344.8,347.2 L341,346.5 L337.3,345.9 L333.9,345.3 L330.6,344.7 L327.5,344.2 L324.4,343.6 L321.3,343 L318.1,342.3 L314.9,341.7 L311.6,341 L308.2,340.2 L304.5,339.3 L300.9,338.4 L297.5,337.6 L294.4,336.8 L291.4,336 L288.6,335.2 L285.9,334.4 L283.2,333.6 L280.6,332.8 L277.9,331.9 L275.2,331 L272.3,330.1 L269.3,329.1 L266.4,328.1 L263.7,327.3 L261.3,326.6 L259.1,325.9 L257,325.3 L255.1,324.6 L253.2,323.9 L251.2,323.2 L249.3,322.3 L247.2,321.3 L245,320.2 L242.6,318.8 L240.2,317.4 L237.9,316.1 L235.8,314.9 L233.8,313.7 L231.9,312.5 L230.1,311.3 L228.3,309.9 L226.5,308.3 L224.7,306.6 L222.9,304.6 L221,302.3 L219,299.7 L217.1,296.9 L215.4,294.1 L213.8,291.3 L212.4,288.4 L211.1,285.5 L209.9,282.5 L208.7,279.5 L207.5,276.4 L206.2,273.1 L204.9,269.8 L203.4,266.3 L201.8,262.7" fill="none" stroke="#00ff00" stroke-width="2"/>
<circle cx="420.6" cy="363.2" r="2.4" fill="#00ff00"/>
<circle cx="384" cy="353.1" r="2.4" fill="#00ff00"/>
<circle cx="344.8" cy="347.2" r="2.4" fill="#00ff00"/>
<circle cx="304.5" cy="339.3" r="3.6" fill="#00ff00"/>
<circle cx="269.3" cy="329.1" r="2.4" fill="#00ff00"/>
<circle cx="242.6" cy="318.8" r="2.4" fill="#00ff00"/>
<circle cx="219" cy="299.7" r="2.4" fill="#00ff00"/>
<circle cx="201.8" cy="262.7" r="3.6" fill="#00ff00"/>
<path d="M462.7,404.3 L458.6,402.9 L454.9,401.6 L451.5,400.4 L448.3,399.2 L445.2,398.1 L442.1,397 L439,395.9 L435.7,394.8 L432.3,393.7 L428.6,392.6 L424.6,391.5 L420.2,390.3 L415.7,389.1 L411.4,388.1 L407.3,387 L403.3,386.1 L399.4,385.2 L395.6,384.3 L391.6,383.6 L387.6,382.8 L383.4,382.2 L379,381.6 L374.4,381.1 L369.4,380.6 L364.4,380.2 L359.8,379.9 L355.4,379.7 L351.2,379.6 L347.1,379.5 L343.1,379.6 L339.1,379.7 L335.1,379.9 L330.9,380.2 L326.5,380.5 L321.8,381 L316.8,381.5 L311.8,382.1 L307.2,382.7 L302.8,383.3 L298.7,383.9 L294.7,384.6 L290.9,385.4 L287,386.2 L283.1,387.2 L279.1,388.1 L274.9,389.2 L270.4,390.4 L265.7,391.7 L261,393 L256.5,394.3 L252.4,395.5 L248.4,396.8 L244.7,398 L241,399.3 L237.4,400.6 L233.8,402 L230.1,403.5 L226.4,405 L222.4,406.6 L218.3,408.4 L214.2,410.2 L210.4,411.8 L206.8,413.3 L203.5,414.8 L200.4,416.3 L197.4,417.7 L194.5,419.2 L191.7,420.7 L189,422.4 L186.2,424.2 L183.4,426.1 L180.6,428.3 L177.9,430.4 L175.4,432.4 L173.2,434.2 L171.1,435.9 L169.3,437.6 L167.7,439.4 L166.3,441.2 L165,443.2 L163.8,445.3 L162.7,447.8 L161.7,450.5 L160.7,453.6 L159.9,456.9 L159.5,460.1 L159.3,463.3 L159.3,466.4 L159.4,469.6 L159.8,472.8 L160.2,476.1 L160.6,479.5 L161.1,483 L161.5,486.6 L161.8,490.4 L162,494.4" fill="none" stroke="#00ff00" stroke-width="2"/>
<circle cx="420.2" cy="390.3" r="2.4" fill="#00ff00"/>
<circle cx="369.4" cy="380.6" r="2.4" fill="#00ff00"/>
<circle cx="316.8" cy="381.5" r="2.4" fill="#00ff00"/>
<circle cx="265.7" cy="391.7" r="3.6" fill="#00ff00"/>
<circle cx="218.3" cy="408.4" r="2.4" fill="#00ff00"/>
<circle cx="180.6" cy="428.3" r="2.4" fill="#00ff00"/>
<circle cx="160.7" cy="453.6" r="2.4" fill="#00ff00"/>
<circle cx="162" cy="494.4" r="3.6" fill="#00ff00"/>
<polygon points="434.9,339.8 436.4,343.4 440.2,343.7 437.3,346.2 438.2,349.9 434.9,347.9 431.6,349.9 432.5,346.2 429.6,343.7 433.4,343.4" fill="#000"/>
<polygon points="454.3,369 455.8,372.6 459.6,372.9 456.7,375.4 457.6,379.1 454.3,377.1 451,379.1 451.9,375.4 449,372.9 452.8,372.6" fill="#000"/>
<polygon points="462.7,398.7 464.2,402.3 468,402.6 465.1,405.1 466,408.8 462.7,406.8 459.4,408.8 460.3,405.1 457.4,402.6 461.2,402.3" fill="#000"/>
</g>
<rect x="95" y="197" width="422" height="2" fill="#6b6b6b"/>
<rect x="95" y="521" width="422" height="2" fill="#6b6b6b"/>
<rect x="95" y="602" width="422" height="2" fill="#6b6b6b"/>
<rect x="95" y="629" width="422" height="2" fill="#6b6b6b"/>
<rect x="95" y="197" width="1" height="434" fill="#000"/>
<rect x="516" y="197" width="1" height="434" fill="#000"/>
<text transform="translate(86.8,433.1) rotate(-90)" font-size="14" fill="#000">Source</text>
<g transform="translate(82.2,376.2) rotate(-90)"><polygon points="0,-5.2 1.2,-1.7 4.9,-1.6 2,0.6 3.1,4.2 0,2.1 -3.1,4.2 -2,0.6 -4.9,-1.6 -1.2,-1.7" fill="#000"/></g>
<text transform="translate(86.8,359.4) rotate(-90)" font-size="14" fill="#000">at multiple locations</text>
<text transform="translate(87.4,597.0) rotate(-90)" font-size="14" fill="#000">Meters AGL</text>
<line x1="137" y1="589.3" x2="476" y2="589.3" stroke="#a8a8a8" stroke-width="0.95" stroke-dasharray="6.7,5.4"/>
<text x="482.0" y="593.2" font-size="11.4" letter-spacing="0.75" fill="#000">1000</text>
<line x1="137" y1="575.8" x2="476" y2="575.8" stroke="#a8a8a8" stroke-width="0.95" stroke-dasharray="6.7,5.4"/>
<text x="482.0" y="579.7" font-size="11.4" letter-spacing="0.75" fill="#000">2000</text>
<line x1="137" y1="562.3" x2="476" y2="562.3" stroke="#a8a8a8" stroke-width="0.95" stroke-dasharray="6.7,5.4"/>
<text x="482.0" y="566.2" font-size="11.4" letter-spacing="0.75" fill="#000">3000</text>
<line x1="137" y1="548.8" x2="476" y2="548.8" stroke="#a8a8a8" stroke-width="0.95" stroke-dasharray="6.7,5.4"/>
<text x="482.0" y="552.7" font-size="11.4" letter-spacing="0.75" fill="#000">4000</text>
<line x1="137" y1="535.3" x2="476" y2="535.3" stroke="#a8a8a8" stroke-width="0.95" stroke-dasharray="6.7,5.4"/>
<text x="482.0" y="539.2" font-size="11.4" letter-spacing="0.75" fill="#000">5000</text>
<text x="117.5" y="565.9" font-size="11.4" letter-spacing="0.75" text-anchor="middle" fill="#000">3000</text>
<text x="117.5" y="585.6" font-size="11.4" letter-spacing="0.75" text-anchor="middle" fill="#000">1500</text>
<text x="117.5" y="599.8" font-size="11.4" letter-spacing="0.75" text-anchor="middle" fill="#000">500</text>
<line x1="184.5" y1="603" x2="184.5" y2="608.5" stroke="#555" stroke-width="0.7"/>
<text x="184.5" y="616.8" font-size="10" letter-spacing="0.3" text-anchor="middle" fill="#000">18</text>
<line x1="224.9" y1="603" x2="224.9" y2="608.5" stroke="#555" stroke-width="0.7"/>
<text x="224.9" y="616.8" font-size="10" letter-spacing="0.3" text-anchor="middle" fill="#000">12</text>
<line x1="265.4" y1="603" x2="265.4" y2="608.5" stroke="#555" stroke-width="0.7"/>
<text x="265.4" y="616.8" font-size="10" letter-spacing="0.3" text-anchor="middle" fill="#000">06</text>
<line x1="305.9" y1="603" x2="305.9" y2="608.5" stroke="#555" stroke-width="0.7"/>
<text x="305.9" y="616.8" font-size="10" letter-spacing="0.3" text-anchor="middle" fill="#000">00</text>
<line x1="346.4" y1="603" x2="346.4" y2="608.5" stroke="#555" stroke-width="0.7"/>
<text x="346.4" y="616.8" font-size="10" letter-spacing="0.3" text-anchor="middle" fill="#000">18</text>
<line x1="386.8" y1="603" x2="386.8" y2="608.5" stroke="#555" stroke-width="0.7"/>
<text x="386.8" y="616.8" font-size="10" letter-spacing="0.3" text-anchor="middle" fill="#000">12</text>
<line x1="427.3" y1="603" x2="427.3" y2="608.5" stroke="#555" stroke-width="0.7"/>
<text x="427.3" y="616.8" font-size="10" letter-spacing="0.3" text-anchor="middle" fill="#000">06</text>
<line x1="467.8" y1="603" x2="467.8" y2="608.5" stroke="#555" stroke-width="0.7"/>
<text x="467.8" y="616.8" font-size="10" letter-spacing="0.3" text-anchor="middle" fill="#000">00</text>
<text x="306" y="626.8" font-size="10" letter-spacing="0.1" text-anchor="middle" fill="#000">08/22</text>
<text x="467.9" y="626.8" font-size="10" letter-spacing="0.1" text-anchor="middle" fill="#000">08/21</text>
<path d="M144,596.2 L149.1,595.9 L154.1,595.6 L159.2,595.4 L164.2,595.1 L169.3,594.8 L174.4,594.5 L179.4,594.1 L184.5,593.7 L189.5,593.1 L194.6,592.5 L199.6,591.7 L204.7,590.9 L209.8,590.2 L214.8,589.5 L219.9,588.9 L224.9,588.5 L230,588.3 L235.1,588.2 L240.1,588.3 L245.2,588.4 L250.2,588.5 L255.3,588.6 L260.4,588.6 L265.4,588.5 L270.5,588.2 L275.5,587.7 L280.6,587.2 L285.6,586.6 L290.7,586 L295.8,585.5 L300.8,585.1 L305.9,584.9 L310.9,584.8 L316,584.9 L321.1,585 L326.1,585.2 L331.2,585.4 L336.2,585.7 L341.3,586.1 L346.4,586.5 L351.4,587 L356.5,587.5 L361.5,588.1 L366.6,588.7 L371.6,589.4 L376.7,590.1 L381.8,590.8 L386.8,591.4 L391.9,592.1 L396.9,592.8 L402,593.6 L407.1,594.3 L412.1,595 L417.2,595.6 L422.2,596 L427.3,596.3 L432.3,596.3 L437.4,596.2 L442.5,595.9 L447.5,595.6 L452.6,595.1 L457.6,594.7 L462.7,594.2 L467.8,593.9" fill="none" stroke="#ff0000" stroke-width="1.5"/>
<polygon points="184.5,590.8 181.5,595.6 187.5,595.6" fill="#ff0000"/>
<polygon points="224.9,585.6 221.9,590.4 227.9,590.4" fill="#ff0000"/>
<polygon points="265.4,585.6 262.4,590.4 268.4,590.4" fill="#ff0000"/>
<polygon points="305.9,580.8 301.9,587.6 309.9,587.6" fill="#ff0000"/>
<polygon points="346.4,583.6 343.4,588.4 349.4,588.4" fill="#ff0000"/>
<polygon points="386.8,588.5 383.8,593.3 389.8,593.3" fill="#ff0000"/>
<polygon points="427.3,593.4 424.3,598.2 430.3,598.2" fill="#ff0000"/>
<polygon points="467.8,589.8 463.8,596.6 471.8,596.6" fill="#ff0000"/>
<path d="M144,596.2 L149.1,596.3 L154.1,596.4 L159.2,596.5 L164.2,596.7 L169.3,596.8 L174.4,596.9 L179.4,596.9 L184.5,597 L189.5,597 L194.6,597.1 L199.6,597 L204.7,597 L209.8,597 L214.8,597 L219.9,597 L224.9,597 L230,597 L235.1,597.1 L240.1,597.1 L245.2,597.2 L250.2,597.2 L255.3,597.2 L260.4,597.2 L265.4,597.2 L270.5,597.2 L275.5,597.1 L280.6,597.1 L285.6,597.1 L290.7,597 L295.8,596.8 L300.8,596.6 L305.9,596.3 L310.9,595.8 L316,595.1 L321.1,594.3 L326.1,593.5 L331.2,592.7 L336.2,592 L341.3,591.6 L346.4,591.4 L351.4,591.6 L356.5,592 L361.5,592.6 L366.6,593.4 L371.6,594.2 L376.7,595 L381.8,595.7 L386.8,596.3 L391.9,596.7 L396.9,597.2 L402,597.6 L407.1,597.9 L412.1,598.2 L417.2,598.5 L422.2,598.7 L427.3,598.8 L432.3,598.9 L437.4,598.8 L442.5,598.7 L447.5,598.6 L452.6,598.4 L457.6,598.3 L462.7,598.1 L467.8,598" fill="none" stroke="#ff0000" stroke-width="1.5"/>
<polygon points="184.5,594.1 181.5,598.9 187.5,598.9" fill="#ff0000"/>
<polygon points="224.9,594.1 221.9,598.9 227.9,598.9" fill="#ff0000"/>
<polygon points="265.4,594.3 262.4,599.1 268.4,599.1" fill="#ff0000"/>
<polygon points="305.9,592.2 301.9,599 309.9,599" fill="#ff0000"/>
<polygon points="346.4,588.5 343.4,593.3 349.4,593.3" fill="#ff0000"/>
<polygon points="386.8,593.4 383.8,598.2 389.8,598.2" fill="#ff0000"/>
<polygon points="427.3,595.9 424.3,600.7 430.3,600.7" fill="#ff0000"/>
<polygon points="467.8,593.9 463.8,600.7 471.8,600.7" fill="#ff0000"/>
<path d="M144,596.2 L149.1,596.8 L154.1,597.4 L159.2,598 L164.2,598.6 L169.3,599.2 L174.4,599.7 L179.4,600.2 L184.5,600.5 L189.5,600.7 L194.6,600.8 L199.6,600.8 L204.7,600.7 L209.8,600.6 L214.8,600.5 L219.9,600.5 L224.9,600.5 L230,600.6 L235.1,600.7 L240.1,600.9 L245.2,601 L250.2,601.1 L255.3,601.3 L260.4,601.3 L265.4,601.3 L270.5,601.2 L275.5,601 L280.6,600.8 L285.6,600.6 L290.7,600.3 L295.8,600.1 L300.8,599.8 L305.9,599.6 L310.9,599.4 L316,599.1 L321.1,598.9 L326.1,598.6 L331.2,598.4 L336.2,598.2 L341.3,598.1 L346.4,598 L351.4,598 L356.5,598 L361.5,598.1 L366.6,598.3 L371.6,598.4 L376.7,598.6 L381.8,598.8 L386.8,599 L391.9,599.2 L396.9,599.4 L402,599.6 L407.1,599.9 L412.1,600.2 L417.2,600.4 L422.2,600.7 L427.3,601 L432.3,601.3 L437.4,601.6 L442.5,602 L447.5,602.3 L452.6,602.7 L457.6,603 L462.7,603.4 L467.8,603.7" fill="none" stroke="#ff0000" stroke-width="1.5"/>
<polygon points="184.5,597.6 181.5,602.4 187.5,602.4" fill="#ff0000"/>
<polygon points="224.9,597.6 221.9,602.4 227.9,602.4" fill="#ff0000"/>
<polygon points="265.4,598.4 262.4,603.2 268.4,603.2" fill="#ff0000"/>
<polygon points="305.9,595.5 301.9,602.3 309.9,602.3" fill="#ff0000"/>
<polygon points="346.4,595.1 343.4,599.9 349.4,599.9" fill="#ff0000"/>
<polygon points="386.8,596.1 383.8,600.9 389.8,600.9" fill="#ff0000"/>
<polygon points="427.3,598.1 424.3,602.9 430.3,602.9" fill="#ff0000"/>
<polygon points="467.8,599.6 463.8,606.4 471.8,606.4" fill="#ff0000"/>
<path d="M144,582.5 L149.1,582.2 L154.1,582 L159.2,581.7 L164.2,581.4 L169.3,581.2 L174.4,580.9 L179.4,580.6 L184.5,580.3 L189.5,580 L194.6,579.7 L199.6,579.3 L204.7,579 L209.8,578.6 L214.8,578.2 L219.9,577.9 L224.9,577.5 L230,577.1 L235.1,576.8 L240.1,576.4 L245.2,576 L250.2,575.6 L255.3,575.2 L260.4,574.8 L265.4,574.3 L270.5,573.7 L275.5,573.1 L280.6,572.4 L285.6,571.6 L290.7,571 L295.8,570.3 L300.8,569.8 L305.9,569.4 L310.9,569.2 L316,569 L321.1,569 L326.1,569.1 L331.2,569.1 L336.2,569.2 L341.3,569.3 L346.4,569.4 L351.4,569.5 L356.5,569.6 L361.5,569.7 L366.6,569.8 L371.6,569.9 L376.7,570 L381.8,570 L386.8,569.9 L391.9,569.7 L396.9,569.4 L402,569 L407.1,568.5 L412.1,568.1 L417.2,567.6 L422.2,567.2 L427.3,566.9 L432.3,566.6 L437.4,566.4 L442.5,566.2 L447.5,566 L452.6,565.8 L457.6,565.7 L462.7,565.5 L467.8,565.3" fill="none" stroke="#0000ff" stroke-width="1.5"/>
<rect x="182.2" y="578" width="4.6" height="4.6" fill="#0000ff"/>
<rect x="222.6" y="575.2" width="4.6" height="4.6" fill="#0000ff"/>
<rect x="263.1" y="572" width="4.6" height="4.6" fill="#0000ff"/>
<rect x="302.6" y="566.1" width="6.6" height="6.6" fill="#0000ff"/>
<rect x="344.1" y="567.1" width="4.6" height="4.6" fill="#0000ff"/>
<rect x="384.5" y="567.6" width="4.6" height="4.6" fill="#0000ff"/>
<rect x="425" y="564.6" width="4.6" height="4.6" fill="#0000ff"/>
<rect x="464.5" y="562" width="6.6" height="6.6" fill="#0000ff"/>
<path d="M144,582.5 L149.1,582.5 L154.1,582.5 L159.2,582.5 L164.2,582.5 L169.3,582.5 L174.4,582.5 L179.4,582.6 L184.5,582.6 L189.5,582.7 L194.6,582.8 L199.6,582.9 L204.7,583.1 L209.8,583.2 L214.8,583.3 L219.9,583.4 L224.9,583.4 L230,583.3 L235.1,583.2 L240.1,583 L245.2,582.7 L250.2,582.5 L255.3,582.3 L260.4,582.2 L265.4,582.2 L270.5,582.3 L275.5,582.4 L280.6,582.7 L285.6,582.9 L290.7,583.2 L295.8,583.5 L300.8,583.8 L305.9,584.1 L310.9,584.4 L316,584.6 L321.1,584.9 L326.1,585.2 L331.2,585.5 L336.2,585.8 L341.3,586.1 L346.4,586.5 L351.4,586.9 L356.5,587.4 L361.5,588 L366.6,588.5 L371.6,589.1 L376.7,589.6 L381.8,590.2 L386.8,590.6 L391.9,591 L396.9,591.5 L402,591.9 L407.1,592.4 L412.1,592.7 L417.2,593 L422.2,593.1 L427.3,593.1 L432.3,592.9 L437.4,592.5 L442.5,592 L447.5,591.5 L452.6,590.8 L457.6,590.2 L462.7,589.6 L467.8,589" fill="none" stroke="#0000ff" stroke-width="1.5"/>
<rect x="182.2" y="580.3" width="4.6" height="4.6" fill="#0000ff"/>
<rect x="222.6" y="581.1" width="4.6" height="4.6" fill="#0000ff"/>
<rect x="263.1" y="579.9" width="4.6" height="4.6" fill="#0000ff"/>
<rect x="302.6" y="580.8" width="6.6" height="6.6" fill="#0000ff"/>
<rect x="344.1" y="584.2" width="4.6" height="4.6" fill="#0000ff"/>
<rect x="384.5" y="588.3" width="4.6" height="4.6" fill="#0000ff"/>
<rect x="425" y="590.8" width="4.6" height="4.6" fill="#0000ff"/>
<rect x="464.5" y="585.7" width="6.6" height="6.6" fill="#0000ff"/>
<path d="M144,582.5 L149.1,583.5 L154.1,584.6 L159.2,585.6 L164.2,586.7 L169.3,587.7 L174.4,588.7 L179.4,589.6 L184.5,590.3 L189.5,590.9 L194.6,591.5 L199.6,591.9 L204.7,592.3 L209.8,592.6 L214.8,592.9 L219.9,593.1 L224.9,593.2 L230,593.3 L235.1,593.3 L240.1,593.2 L245.2,593 L250.2,592.9 L255.3,592.7 L260.4,592.5 L265.4,592.3 L270.5,592.1 L275.5,591.8 L280.6,591.5 L285.6,591.2 L290.7,590.9 L295.8,590.7 L300.8,590.6 L305.9,590.6 L310.9,590.8 L316,591 L321.1,591.4 L326.1,591.8 L331.2,592.3 L336.2,592.8 L341.3,593.4 L346.4,593.9 L351.4,594.5 L356.5,595.1 L361.5,595.7 L366.6,596.4 L371.6,597.1 L376.7,597.7 L381.8,598.3 L386.8,598.8 L391.9,599.3 L396.9,599.7 L402,600.1 L407.1,600.4 L412.1,600.7 L417.2,601 L422.2,601.1 L427.3,601.2 L432.3,601.2 L437.4,601 L442.5,600.7 L447.5,600.4 L452.6,600.1 L457.6,599.7 L462.7,599.4 L467.8,599.1" fill="none" stroke="#0000ff" stroke-width="1.5"/>
<rect x="182.2" y="588" width="4.6" height="4.6" fill="#0000ff"/>
<rect x="222.6" y="590.9" width="4.6" height="4.6" fill="#0000ff"/>
<rect x="263.1" y="590" width="4.6" height="4.6" fill="#0000ff"/>
<rect x="302.6" y="587.3" width="6.6" height="6.6" fill="#0000ff"/>
<rect x="344.1" y="591.6" width="4.6" height="4.6" fill="#0000ff"/>
<rect x="384.5" y="596.5" width="4.6" height="4.6" fill="#0000ff"/>
<rect x="425" y="598.9" width="4.6" height="4.6" fill="#0000ff"/>
<rect x="464.5" y="595.8" width="6.6" height="6.6" fill="#0000ff"/>
<path d="M144,562 L149.1,561.8 L154.1,561.6 L159.2,561.4 L164.2,561.2 L169.3,561 L174.4,560.8 L179.4,560.6 L184.5,560.3 L189.5,560 L194.6,559.6 L199.6,559.3 L204.7,558.9 L209.8,558.5 L214.8,558.1 L219.9,557.6 L224.9,557.2 L230,556.7 L235.1,556.3 L240.1,555.8 L245.2,555.3 L250.2,554.8 L255.3,554.3 L260.4,553.7 L265.4,553.1 L270.5,552.5 L275.5,551.8 L280.6,551.1 L285.6,550.3 L290.7,549.6 L295.8,548.8 L300.8,548.1 L305.9,547.3 L310.9,546.5 L316,545.6 L321.1,544.8 L326.1,543.9 L331.2,543 L336.2,542.2 L341.3,541.5 L346.4,540.8 L351.4,540.2 L356.5,539.8 L361.5,539.3 L366.6,539 L371.6,538.6 L376.7,538.3 L381.8,537.9 L386.8,537.5 L391.9,537.1 L396.9,536.7 L402,536.4 L407.1,536 L412.1,535.6 L417.2,535.1 L422.2,534.5 L427.3,533.8 L432.3,532.9 L437.4,531.9 L442.5,530.7 L447.5,529.5 L452.6,528.2 L457.6,527 L462.7,525.7 L467.8,524.5" fill="none" stroke="#00ff00" stroke-width="1.5"/>
<circle cx="184.5" cy="560.3" r="2.4" fill="#00ff00"/>
<circle cx="224.9" cy="557.2" r="2.4" fill="#00ff00"/>
<circle cx="265.4" cy="553.1" r="2.4" fill="#00ff00"/>
<circle cx="305.9" cy="547.3" r="3.6" fill="#00ff00"/>
<circle cx="346.4" cy="540.8" r="2.4" fill="#00ff00"/>
<circle cx="386.8" cy="537.5" r="2.4" fill="#00ff00"/>
<circle cx="427.3" cy="533.8" r="2.4" fill="#00ff00"/>
<circle cx="467.8" cy="524.5" r="3.6" fill="#00ff00"/>
<path d="M144,562 L149.1,562 L154.1,562 L159.2,562 L164.2,562 L169.3,562 L174.4,562 L179.4,561.9 L184.5,561.8 L189.5,561.6 L194.6,561.4 L199.6,561.1 L204.7,560.8 L209.8,560.4 L214.8,560.1 L219.9,559.7 L224.9,559.3 L230,558.9 L235.1,558.5 L240.1,558.1 L245.2,557.6 L250.2,557.1 L255.3,556.6 L260.4,556.1 L265.4,555.5 L270.5,554.8 L275.5,554.1 L280.6,553.3 L285.6,552.6 L290.7,551.7 L295.8,551 L300.8,550.2 L305.9,549.5 L310.9,548.9 L316,548.3 L321.1,547.7 L326.1,547.2 L331.2,546.6 L336.2,546.1 L341.3,545.5 L346.4,544.9 L351.4,544.3 L356.5,543.6 L361.5,542.9 L366.6,542.1 L371.6,541.4 L376.7,540.8 L381.8,540.2 L386.8,539.6 L391.9,539.1 L396.9,538.6 L402,538.2 L407.1,537.8 L412.1,537.5 L417.2,537.2 L422.2,536.9 L427.3,536.7 L432.3,536.5 L437.4,536.4 L442.5,536.4 L447.5,536.4 L452.6,536.4 L457.6,536.4 L462.7,536.4 L467.8,536.4" fill="none" stroke="#00ff00" stroke-width="1.5"/>
<circle cx="184.5" cy="561.8" r="2.4" fill="#00ff00"/>
<circle cx="224.9" cy="559.3" r="2.4" fill="#00ff00"/>
<circle cx="265.4" cy="555.5" r="2.4" fill="#00ff00"/>
<circle cx="305.9" cy="549.5" r="3.6" fill="#00ff00"/>
<circle cx="346.4" cy="544.9" r="2.4" fill="#00ff00"/>
<circle cx="386.8" cy="539.6" r="2.4" fill="#00ff00"/>
<circle cx="427.3" cy="536.7" r="2.4" fill="#00ff00"/>
<circle cx="467.8" cy="536.4" r="3.6" fill="#00ff00"/>
<path d="M144,562 L149.1,562.3 L154.1,562.6 L159.2,563 L164.2,563.3 L169.3,563.6 L174.4,563.8 L179.4,564 L184.5,564 L189.5,563.9 L194.6,563.6 L199.6,563.3 L204.7,562.9 L209.8,562.4 L214.8,562 L219.9,561.6 L224.9,561.2 L230,560.9 L235.1,560.6 L240.1,560.4 L245.2,560.1 L250.2,559.8 L255.3,559.5 L260.4,559.2 L265.4,558.8 L270.5,558.3 L275.5,557.8 L280.6,557.2 L285.6,556.6 L290.7,556 L295.8,555.4 L300.8,554.9 L305.9,554.4 L310.9,554 L316,553.7 L321.1,553.4 L326.1,553.2 L331.2,552.9 L336.2,552.7 L341.3,552.5 L346.4,552.2 L351.4,551.8 L356.5,551.4 L361.5,550.8 L366.6,550.3 L371.6,549.9 L376.7,549.7 L381.8,549.7 L386.8,550.1 L391.9,550.8 L396.9,551.8 L402,553.1 L407.1,554.5 L412.1,556 L417.2,557.7 L422.2,559.3 L427.3,560.9 L432.3,562.5 L437.4,564.2 L442.5,566 L447.5,567.8 L452.6,569.6 L457.6,571.5 L462.7,573.3 L467.8,575.1" fill="none" stroke="#00ff00" stroke-width="1.5"/>
<circle cx="184.5" cy="564" r="2.4" fill="#00ff00"/>
<circle cx="224.9" cy="561.2" r="2.4" fill="#00ff00"/>
<circle cx="265.4" cy="558.8" r="2.4" fill="#00ff00"/>
<circle cx="305.9" cy="554.4" r="3.6" fill="#00ff00"/>
<circle cx="346.4" cy="552.2" r="2.4" fill="#00ff00"/>
<circle cx="386.8" cy="550.1" r="2.4" fill="#00ff00"/>
<circle cx="427.3" cy="560.9" r="2.4" fill="#00ff00"/>
<circle cx="467.8" cy="575.1" r="3.6" fill="#00ff00"/>
<polygon points="143.5,556.6 145,560.2 148.8,560.5 145.9,563 146.8,566.7 143.5,564.7 140.2,566.7 141.1,563 138.2,560.5 142,560.2" fill="#000"/>
<polygon points="143.5,576.6 145,580.2 148.8,580.5 145.9,583 146.8,586.7 143.5,584.7 140.2,586.7 141.1,583 138.2,580.5 142,580.2" fill="#000"/>
<polygon points="143.5,590.7 145,594.3 148.8,594.6 145.9,597.1 146.8,600.8 143.5,598.8 140.2,600.8 141.1,597.1 138.2,594.6 142,594.3" fill="#000"/>
</svg></body></html>
